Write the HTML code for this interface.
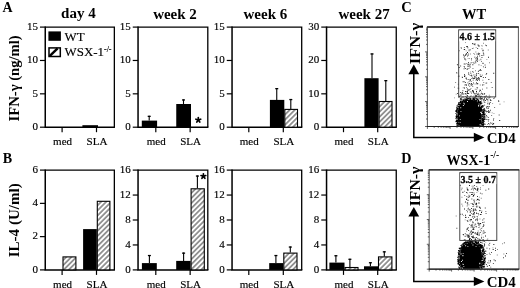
<!DOCTYPE html>
<html><head><meta charset="utf-8"><style>
html,body{margin:0;padding:0;background:#fff;}
body{width:520px;height:288px;overflow:hidden;}
svg{display:block;filter:blur(0.3px);}
text{font-family:"Liberation Serif", serif;fill:#000;}
</style></head><body>
<svg width="520" height="288" viewBox="0 0 520 288">
<defs><pattern id="hatch" patternUnits="userSpaceOnUse" width="3.6" height="3.6" patternTransform="rotate(45)"><rect width="3.6" height="3.6" fill="#fff"/><line x1="1.8" y1="0" x2="1.8" y2="3.6" stroke="#222" stroke-width="0.9"/></pattern></defs>
<rect width="520" height="288" fill="#fff"/>
<path d="M45.25 27.10 H114.35 V127.20" fill="none" stroke="#000" stroke-width="1.3"/>
<path d="M45.25 26.50 V127.20 H114.95" fill="none" stroke="#000" stroke-width="1.5"/>
<line x1="39.95" y1="127.20" x2="45.25" y2="127.20" stroke="#000" stroke-width="1.2"/>
<text x="37.95" y="130.00" text-anchor="end" font-size="11" stroke="#000" stroke-width="0.15">0</text>
<line x1="39.95" y1="93.83" x2="45.25" y2="93.83" stroke="#000" stroke-width="1.2"/>
<text x="37.95" y="96.63" text-anchor="end" font-size="11" stroke="#000" stroke-width="0.15">5</text>
<line x1="39.95" y1="60.47" x2="45.25" y2="60.47" stroke="#000" stroke-width="1.2"/>
<text x="37.95" y="63.27" text-anchor="end" font-size="11" stroke="#000" stroke-width="0.15">10</text>
<line x1="39.95" y1="27.10" x2="45.25" y2="27.10" stroke="#000" stroke-width="1.2"/>
<text x="37.95" y="29.90" text-anchor="end" font-size="11" stroke="#000" stroke-width="0.15">15</text>
<line x1="62.10" y1="127.20" x2="62.10" y2="132.20" stroke="#000" stroke-width="1.2"/>
<text x="62.60" y="144.90" text-anchor="middle" font-size="11" stroke="#000" stroke-width="0.15">med</text>
<line x1="96.50" y1="127.20" x2="96.50" y2="132.20" stroke="#000" stroke-width="1.2"/>
<text x="97.00" y="144.90" text-anchor="middle" font-size="11" stroke="#000" stroke-width="0.15">SLA</text>
<path d="M138.05 27.10 H207.80 V127.20" fill="none" stroke="#000" stroke-width="1.3"/>
<path d="M138.05 26.50 V127.20 H208.40" fill="none" stroke="#000" stroke-width="1.5"/>
<line x1="132.75" y1="127.20" x2="138.05" y2="127.20" stroke="#000" stroke-width="1.2"/>
<text x="130.75" y="130.00" text-anchor="end" font-size="11" stroke="#000" stroke-width="0.15">0</text>
<line x1="132.75" y1="93.83" x2="138.05" y2="93.83" stroke="#000" stroke-width="1.2"/>
<text x="130.75" y="96.63" text-anchor="end" font-size="11" stroke="#000" stroke-width="0.15">5</text>
<line x1="132.75" y1="60.47" x2="138.05" y2="60.47" stroke="#000" stroke-width="1.2"/>
<text x="130.75" y="63.27" text-anchor="end" font-size="11" stroke="#000" stroke-width="0.15">10</text>
<line x1="132.75" y1="27.10" x2="138.05" y2="27.10" stroke="#000" stroke-width="1.2"/>
<text x="130.75" y="29.90" text-anchor="end" font-size="11" stroke="#000" stroke-width="0.15">15</text>
<line x1="155.80" y1="127.20" x2="155.80" y2="132.20" stroke="#000" stroke-width="1.2"/>
<text x="156.30" y="144.90" text-anchor="middle" font-size="11" stroke="#000" stroke-width="0.15">med</text>
<line x1="190.15" y1="127.20" x2="190.15" y2="132.20" stroke="#000" stroke-width="1.2"/>
<text x="190.65" y="144.90" text-anchor="middle" font-size="11" stroke="#000" stroke-width="0.15">SLA</text>
<path d="M232.05 27.10 H301.70 V127.20" fill="none" stroke="#000" stroke-width="1.3"/>
<path d="M232.05 26.50 V127.20 H302.30" fill="none" stroke="#000" stroke-width="1.5"/>
<line x1="226.75" y1="127.20" x2="232.05" y2="127.20" stroke="#000" stroke-width="1.2"/>
<text x="224.75" y="130.00" text-anchor="end" font-size="11" stroke="#000" stroke-width="0.15">0</text>
<line x1="226.75" y1="93.83" x2="232.05" y2="93.83" stroke="#000" stroke-width="1.2"/>
<text x="224.75" y="96.63" text-anchor="end" font-size="11" stroke="#000" stroke-width="0.15">5</text>
<line x1="226.75" y1="60.47" x2="232.05" y2="60.47" stroke="#000" stroke-width="1.2"/>
<text x="224.75" y="63.27" text-anchor="end" font-size="11" stroke="#000" stroke-width="0.15">10</text>
<line x1="226.75" y1="27.10" x2="232.05" y2="27.10" stroke="#000" stroke-width="1.2"/>
<text x="224.75" y="29.90" text-anchor="end" font-size="11" stroke="#000" stroke-width="0.15">15</text>
<line x1="248.80" y1="127.20" x2="248.80" y2="132.20" stroke="#000" stroke-width="1.2"/>
<text x="249.30" y="144.90" text-anchor="middle" font-size="11" stroke="#000" stroke-width="0.15">med</text>
<line x1="283.30" y1="127.20" x2="283.30" y2="132.20" stroke="#000" stroke-width="1.2"/>
<text x="283.80" y="144.90" text-anchor="middle" font-size="11" stroke="#000" stroke-width="0.15">SLA</text>
<path d="M326.55 27.10 H396.25 V127.20" fill="none" stroke="#000" stroke-width="1.3"/>
<path d="M326.55 26.50 V127.20 H396.85" fill="none" stroke="#000" stroke-width="1.5"/>
<line x1="321.25" y1="127.20" x2="326.55" y2="127.20" stroke="#000" stroke-width="1.2"/>
<text x="319.25" y="130.00" text-anchor="end" font-size="11" stroke="#000" stroke-width="0.15">0</text>
<line x1="321.25" y1="93.83" x2="326.55" y2="93.83" stroke="#000" stroke-width="1.2"/>
<text x="319.25" y="96.63" text-anchor="end" font-size="11" stroke="#000" stroke-width="0.15">10</text>
<line x1="321.25" y1="60.47" x2="326.55" y2="60.47" stroke="#000" stroke-width="1.2"/>
<text x="319.25" y="63.27" text-anchor="end" font-size="11" stroke="#000" stroke-width="0.15">20</text>
<line x1="321.25" y1="27.10" x2="326.55" y2="27.10" stroke="#000" stroke-width="1.2"/>
<text x="319.25" y="29.90" text-anchor="end" font-size="11" stroke="#000" stroke-width="0.15">30</text>
<line x1="343.50" y1="127.20" x2="343.50" y2="132.20" stroke="#000" stroke-width="1.2"/>
<text x="344.00" y="144.90" text-anchor="middle" font-size="11" stroke="#000" stroke-width="0.15">med</text>
<line x1="377.70" y1="127.20" x2="377.70" y2="132.20" stroke="#000" stroke-width="1.2"/>
<text x="378.20" y="144.90" text-anchor="middle" font-size="11" stroke="#000" stroke-width="0.15">SLA</text>
<path d="M45.25 170.10 H114.35 V269.90" fill="none" stroke="#000" stroke-width="1.3"/>
<path d="M45.25 169.50 V269.90 H114.95" fill="none" stroke="#000" stroke-width="1.5"/>
<line x1="39.95" y1="269.90" x2="45.25" y2="269.90" stroke="#000" stroke-width="1.2"/>
<text x="37.95" y="272.70" text-anchor="end" font-size="11" stroke="#000" stroke-width="0.15">0</text>
<line x1="39.95" y1="236.63" x2="45.25" y2="236.63" stroke="#000" stroke-width="1.2"/>
<text x="37.95" y="239.43" text-anchor="end" font-size="11" stroke="#000" stroke-width="0.15">2</text>
<line x1="39.95" y1="203.37" x2="45.25" y2="203.37" stroke="#000" stroke-width="1.2"/>
<text x="37.95" y="206.17" text-anchor="end" font-size="11" stroke="#000" stroke-width="0.15">4</text>
<line x1="39.95" y1="170.10" x2="45.25" y2="170.10" stroke="#000" stroke-width="1.2"/>
<text x="37.95" y="172.90" text-anchor="end" font-size="11" stroke="#000" stroke-width="0.15">6</text>
<line x1="62.10" y1="269.90" x2="62.10" y2="274.90" stroke="#000" stroke-width="1.2"/>
<text x="62.60" y="287.60" text-anchor="middle" font-size="11" stroke="#000" stroke-width="0.15">med</text>
<line x1="96.50" y1="269.90" x2="96.50" y2="274.90" stroke="#000" stroke-width="1.2"/>
<text x="97.00" y="287.60" text-anchor="middle" font-size="11" stroke="#000" stroke-width="0.15">SLA</text>
<path d="M138.05 170.10 H207.80 V269.90" fill="none" stroke="#000" stroke-width="1.3"/>
<path d="M138.05 169.50 V269.90 H208.40" fill="none" stroke="#000" stroke-width="1.5"/>
<line x1="132.75" y1="269.90" x2="138.05" y2="269.90" stroke="#000" stroke-width="1.2"/>
<text x="130.75" y="272.70" text-anchor="end" font-size="11" stroke="#000" stroke-width="0.15">0</text>
<line x1="132.75" y1="244.95" x2="138.05" y2="244.95" stroke="#000" stroke-width="1.2"/>
<text x="130.75" y="247.75" text-anchor="end" font-size="11" stroke="#000" stroke-width="0.15">4</text>
<line x1="132.75" y1="220.00" x2="138.05" y2="220.00" stroke="#000" stroke-width="1.2"/>
<text x="130.75" y="222.80" text-anchor="end" font-size="11" stroke="#000" stroke-width="0.15">8</text>
<line x1="132.75" y1="195.05" x2="138.05" y2="195.05" stroke="#000" stroke-width="1.2"/>
<text x="130.75" y="197.85" text-anchor="end" font-size="11" stroke="#000" stroke-width="0.15">12</text>
<line x1="132.75" y1="170.10" x2="138.05" y2="170.10" stroke="#000" stroke-width="1.2"/>
<text x="130.75" y="172.90" text-anchor="end" font-size="11" stroke="#000" stroke-width="0.15">16</text>
<line x1="155.80" y1="269.90" x2="155.80" y2="274.90" stroke="#000" stroke-width="1.2"/>
<text x="156.30" y="287.60" text-anchor="middle" font-size="11" stroke="#000" stroke-width="0.15">med</text>
<line x1="190.15" y1="269.90" x2="190.15" y2="274.90" stroke="#000" stroke-width="1.2"/>
<text x="190.65" y="287.60" text-anchor="middle" font-size="11" stroke="#000" stroke-width="0.15">SLA</text>
<path d="M232.05 170.10 H301.70 V269.90" fill="none" stroke="#000" stroke-width="1.3"/>
<path d="M232.05 169.50 V269.90 H302.30" fill="none" stroke="#000" stroke-width="1.5"/>
<line x1="226.75" y1="269.90" x2="232.05" y2="269.90" stroke="#000" stroke-width="1.2"/>
<text x="224.75" y="272.70" text-anchor="end" font-size="11" stroke="#000" stroke-width="0.15">0</text>
<line x1="226.75" y1="244.95" x2="232.05" y2="244.95" stroke="#000" stroke-width="1.2"/>
<text x="224.75" y="247.75" text-anchor="end" font-size="11" stroke="#000" stroke-width="0.15">4</text>
<line x1="226.75" y1="220.00" x2="232.05" y2="220.00" stroke="#000" stroke-width="1.2"/>
<text x="224.75" y="222.80" text-anchor="end" font-size="11" stroke="#000" stroke-width="0.15">8</text>
<line x1="226.75" y1="195.05" x2="232.05" y2="195.05" stroke="#000" stroke-width="1.2"/>
<text x="224.75" y="197.85" text-anchor="end" font-size="11" stroke="#000" stroke-width="0.15">12</text>
<line x1="226.75" y1="170.10" x2="232.05" y2="170.10" stroke="#000" stroke-width="1.2"/>
<text x="224.75" y="172.90" text-anchor="end" font-size="11" stroke="#000" stroke-width="0.15">16</text>
<line x1="248.80" y1="269.90" x2="248.80" y2="274.90" stroke="#000" stroke-width="1.2"/>
<text x="249.30" y="287.60" text-anchor="middle" font-size="11" stroke="#000" stroke-width="0.15">med</text>
<line x1="283.30" y1="269.90" x2="283.30" y2="274.90" stroke="#000" stroke-width="1.2"/>
<text x="283.80" y="287.60" text-anchor="middle" font-size="11" stroke="#000" stroke-width="0.15">SLA</text>
<path d="M326.55 170.10 H396.25 V269.90" fill="none" stroke="#000" stroke-width="1.3"/>
<path d="M326.55 169.50 V269.90 H396.85" fill="none" stroke="#000" stroke-width="1.5"/>
<line x1="321.25" y1="269.90" x2="326.55" y2="269.90" stroke="#000" stroke-width="1.2"/>
<text x="319.25" y="272.70" text-anchor="end" font-size="11" stroke="#000" stroke-width="0.15">0</text>
<line x1="321.25" y1="244.95" x2="326.55" y2="244.95" stroke="#000" stroke-width="1.2"/>
<text x="319.25" y="247.75" text-anchor="end" font-size="11" stroke="#000" stroke-width="0.15">4</text>
<line x1="321.25" y1="220.00" x2="326.55" y2="220.00" stroke="#000" stroke-width="1.2"/>
<text x="319.25" y="222.80" text-anchor="end" font-size="11" stroke="#000" stroke-width="0.15">8</text>
<line x1="321.25" y1="195.05" x2="326.55" y2="195.05" stroke="#000" stroke-width="1.2"/>
<text x="319.25" y="197.85" text-anchor="end" font-size="11" stroke="#000" stroke-width="0.15">12</text>
<line x1="321.25" y1="170.10" x2="326.55" y2="170.10" stroke="#000" stroke-width="1.2"/>
<text x="319.25" y="172.90" text-anchor="end" font-size="11" stroke="#000" stroke-width="0.15">16</text>
<line x1="343.50" y1="269.90" x2="343.50" y2="274.90" stroke="#000" stroke-width="1.2"/>
<text x="344.00" y="287.60" text-anchor="middle" font-size="11" stroke="#000" stroke-width="0.15">med</text>
<line x1="377.70" y1="269.90" x2="377.70" y2="274.90" stroke="#000" stroke-width="1.2"/>
<text x="378.20" y="287.60" text-anchor="middle" font-size="11" stroke="#000" stroke-width="0.15">SLA</text>
<rect x="82.40" y="125.20" width="15.60" height="2.00" fill="#000"/>
<line x1="149.20" y1="115.80" x2="149.20" y2="120.60" stroke="#000" stroke-width="1.1"/>
<line x1="147.70" y1="116.35" x2="150.70" y2="116.35" stroke="#000" stroke-width="1.3"/>
<rect x="141.80" y="120.60" width="15.30" height="6.60" fill="#000"/>
<line x1="183.50" y1="99.40" x2="183.50" y2="104.00" stroke="#000" stroke-width="1.1"/>
<line x1="182.00" y1="99.95" x2="185.00" y2="99.95" stroke="#000" stroke-width="1.3"/>
<rect x="176.25" y="104.00" width="14.75" height="23.20" fill="#000"/>
<line x1="276.75" y1="88.10" x2="276.75" y2="99.90" stroke="#000" stroke-width="1.1"/>
<line x1="275.25" y1="88.65" x2="278.25" y2="88.65" stroke="#000" stroke-width="1.3"/>
<rect x="269.90" y="99.90" width="14.40" height="27.30" fill="#000"/>
<line x1="290.80" y1="99.00" x2="290.80" y2="108.90" stroke="#000" stroke-width="1.1"/>
<line x1="289.30" y1="99.55" x2="292.30" y2="99.55" stroke="#000" stroke-width="1.3"/>
<rect x="284.80" y="109.40" width="12.70" height="17.80" fill="url(#hatch)" stroke="#000" stroke-width="1.1"/>
<line x1="372.00" y1="53.40" x2="372.00" y2="78.20" stroke="#000" stroke-width="1.1"/>
<line x1="370.50" y1="53.95" x2="373.50" y2="53.95" stroke="#000" stroke-width="1.3"/>
<rect x="364.40" y="78.20" width="14.20" height="49.00" fill="#000"/>
<line x1="385.80" y1="80.10" x2="385.80" y2="101.00" stroke="#000" stroke-width="1.1"/>
<line x1="384.30" y1="80.65" x2="387.30" y2="80.65" stroke="#000" stroke-width="1.3"/>
<rect x="379.10" y="101.50" width="12.90" height="25.70" fill="url(#hatch)" stroke="#000" stroke-width="1.1"/>
<rect x="63.00" y="256.90" width="12.90" height="13.00" fill="url(#hatch)" stroke="#000" stroke-width="1.1"/>
<rect x="83.10" y="229.10" width="13.70" height="40.80" fill="#000"/>
<rect x="97.30" y="201.30" width="12.60" height="68.60" fill="url(#hatch)" stroke="#000" stroke-width="1.1"/>
<line x1="149.40" y1="255.00" x2="149.40" y2="263.10" stroke="#000" stroke-width="1.1"/>
<line x1="147.90" y1="255.55" x2="150.90" y2="255.55" stroke="#000" stroke-width="1.3"/>
<rect x="141.90" y="263.10" width="14.90" height="6.80" fill="#000"/>
<line x1="183.60" y1="252.60" x2="183.60" y2="260.90" stroke="#000" stroke-width="1.1"/>
<line x1="182.10" y1="253.15" x2="185.10" y2="253.15" stroke="#000" stroke-width="1.3"/>
<rect x="176.20" y="260.90" width="14.40" height="9.00" fill="#000"/>
<line x1="197.40" y1="175.50" x2="197.40" y2="188.30" stroke="#000" stroke-width="1.1"/>
<line x1="195.90" y1="176.05" x2="198.90" y2="176.05" stroke="#000" stroke-width="1.3"/>
<rect x="191.10" y="188.80" width="13.20" height="81.10" fill="url(#hatch)" stroke="#000" stroke-width="1.1"/>
<line x1="275.90" y1="255.00" x2="275.90" y2="263.10" stroke="#000" stroke-width="1.1"/>
<line x1="274.40" y1="255.55" x2="277.40" y2="255.55" stroke="#000" stroke-width="1.3"/>
<rect x="269.20" y="263.10" width="14.10" height="6.80" fill="#000"/>
<line x1="290.30" y1="246.50" x2="290.30" y2="252.60" stroke="#000" stroke-width="1.1"/>
<line x1="288.80" y1="247.05" x2="291.80" y2="247.05" stroke="#000" stroke-width="1.3"/>
<rect x="283.80" y="253.10" width="13.20" height="16.80" fill="url(#hatch)" stroke="#000" stroke-width="1.1"/>
<line x1="335.90" y1="255.20" x2="335.90" y2="262.60" stroke="#000" stroke-width="1.1"/>
<line x1="334.40" y1="255.75" x2="337.40" y2="255.75" stroke="#000" stroke-width="1.3"/>
<rect x="329.40" y="262.60" width="15.10" height="7.30" fill="#000"/>
<line x1="349.90" y1="258.75" x2="349.90" y2="267.00" stroke="#000" stroke-width="1.1"/>
<line x1="348.40" y1="259.30" x2="351.40" y2="259.30" stroke="#000" stroke-width="1.3"/>
<rect x="345.00" y="267.50" width="13.00" height="2.40" fill="url(#hatch)" stroke="#000" stroke-width="1.1"/>
<line x1="370.40" y1="262.20" x2="370.40" y2="266.30" stroke="#000" stroke-width="1.1"/>
<line x1="368.90" y1="262.75" x2="371.90" y2="262.75" stroke="#000" stroke-width="1.3"/>
<rect x="364.00" y="266.30" width="14.00" height="3.60" fill="#000"/>
<line x1="384.30" y1="251.30" x2="384.30" y2="256.40" stroke="#000" stroke-width="1.1"/>
<line x1="382.80" y1="251.85" x2="385.80" y2="251.85" stroke="#000" stroke-width="1.3"/>
<rect x="378.50" y="256.90" width="13.40" height="13.00" fill="url(#hatch)" stroke="#000" stroke-width="1.1"/>
<path d="M198.30 120.00L198.30 117.50M198.30 120.00L200.68 119.23M198.30 120.00L199.77 122.02M198.30 120.00L196.83 122.02M198.30 120.00L195.92 119.23" stroke="#000" stroke-width="1.7" stroke-linecap="round" fill="none"/>
<path d="M203.40 176.30L203.40 173.80M203.40 176.30L205.78 175.53M203.40 176.30L204.87 178.32M203.40 176.30L201.93 178.32M203.40 176.30L201.02 175.53" stroke="#000" stroke-width="1.7" stroke-linecap="round" fill="none"/>
<text x="78.4" y="18.3" text-anchor="middle" font-size="15" font-weight="bold">day 4</text>
<text x="175" y="18.6" text-anchor="middle" font-size="15" font-weight="bold">week 2</text>
<text x="265.4" y="18.6" text-anchor="middle" font-size="15" font-weight="bold">week 6</text>
<text x="364.1" y="18.6" text-anchor="middle" font-size="15" font-weight="bold">week 27</text>
<text x="2.4" y="11.6" font-size="14.5" font-weight="bold" textLength="10.1" lengthAdjust="spacingAndGlyphs">A</text>
<text x="2.7" y="163.2" font-size="14.5" font-weight="bold" textLength="9.4" lengthAdjust="spacingAndGlyphs">B</text>
<text x="401.3" y="12.1" font-size="15" font-weight="bold" textLength="10.5" lengthAdjust="spacingAndGlyphs">C</text>
<text x="401.3" y="163.1" font-size="14.5" font-weight="bold" textLength="10.2" lengthAdjust="spacingAndGlyphs">D</text>
<text transform="translate(19.4 78.4) rotate(-90)" text-anchor="middle" font-size="14" font-weight="bold" textLength="86" lengthAdjust="spacingAndGlyphs">IFN-γ (ng/ml)</text>
<text transform="translate(19.4 220.3) rotate(-90)" text-anchor="middle" font-size="14" font-weight="bold" textLength="74" lengthAdjust="spacingAndGlyphs">IL-4 (U/ml)</text>
<rect x="48.4" y="31.4" width="12.5" height="9.4" fill="#000"/>
<rect x="49.0" y="47.9" width="11.3" height="8.6" fill="#fff" stroke="#000" stroke-width="1.5"/>
<line x1="49.6" y1="56.2" x2="57.6" y2="48.3" stroke="#000" stroke-width="2.4"/>
<text x="64.6" y="40.9" font-size="12.9" stroke="#000" stroke-width="0.15">WT</text>
<text x="64.6" y="56.4" font-size="12.9" stroke="#000" stroke-width="0.15">WSX-1<tspan font-size="8" dy="-4.2">-/-</tspan></text>
<path d="M427.4 126.5 V27.0 H518.4 V126.5 Z" fill="none" stroke="#444" stroke-width="0.9"/>
<line x1="426.9" y1="27.0" x2="518.8" y2="27.0" stroke="#222" stroke-width="1.3"/>
<line x1="426.9" y1="126.5" x2="518.8" y2="126.5" stroke="#222" stroke-width="1.2"/>
<path d="M427.4 126.5v2.4M427.4 126.5h-2.4M434.2 126.5v1.4M427.4 119.0h-1.4M438.3 126.5v1.4M427.4 114.6h-1.4M441.1 126.5v1.4M427.4 111.5h-1.4M443.3 126.5v1.4M427.4 109.1h-1.4M445.1 126.5v1.4M427.4 107.1h-1.4M446.6 126.5v1.4M427.4 105.5h-1.4M447.9 126.5v1.4M427.4 104.0h-1.4M449.1 126.5v1.4M427.4 102.8h-1.4M450.1 126.5v2.4M427.4 101.6h-2.4M457.0 126.5v1.4M427.4 94.1h-1.4M461.0 126.5v1.4M427.4 89.8h-1.4M463.8 126.5v1.4M427.4 86.6h-1.4M466.1 126.5v1.4M427.4 84.2h-1.4M467.9 126.5v1.4M427.4 82.3h-1.4M469.4 126.5v1.4M427.4 80.6h-1.4M470.7 126.5v1.4M427.4 79.2h-1.4M471.9 126.5v1.4M427.4 77.9h-1.4M472.9 126.5v2.4M427.4 76.8h-2.4M479.7 126.5v1.4M427.4 69.3h-1.4M483.8 126.5v1.4M427.4 64.9h-1.4M486.6 126.5v1.4M427.4 61.8h-1.4M488.8 126.5v1.4M427.4 59.4h-1.4M490.6 126.5v1.4M427.4 57.4h-1.4M492.1 126.5v1.4M427.4 55.7h-1.4M493.4 126.5v1.4M427.4 54.3h-1.4M494.6 126.5v1.4M427.4 53.0h-1.4M495.6 126.5v2.4M427.4 51.9h-2.4M502.5 126.5v1.4M427.4 44.4h-1.4M506.5 126.5v1.4M427.4 40.0h-1.4M509.3 126.5v1.4M427.4 36.9h-1.4M511.6 126.5v1.4M427.4 34.5h-1.4M513.4 126.5v1.4M427.4 32.5h-1.4M514.9 126.5v1.4M427.4 30.9h-1.4M516.2 126.5v1.4M427.4 29.4h-1.4M517.4 126.5v1.4M427.4 28.1h-1.4" stroke="#222" stroke-width="0.7" fill="none"/>
<path d="M476.9 98.7h.9v.9h-.9zM465.2 63.6h.9v.9h-.9zM476.3 87.3h.9v.9h-.9zM474.6 83.6h.9v.9h-.9zM481.5 48.3h.9v.9h-.9zM489.0 62.3h.9v.9h-.9zM472.7 79.9h.9v.9h-.9zM469.0 58.2h.9v.9h-.9zM475.4 51.5h.9v.9h-.9zM478.7 59.7h.9v.9h-.9zM481.9 98.4h.9v.9h-.9zM465.6 54.3h.9v.9h-.9zM466.5 94.9h.9v.9h-.9zM478.0 92.7h.9v.9h-.9zM473.4 92.5h.9v.9h-.9zM467.3 68.3h.9v.9h-.9zM486.1 45.4h.9v.9h-.9zM462.8 87.3h.9v.9h-.9zM470.5 88.0h.9v.9h-.9zM473.6 98.6h.9v.9h-.9zM459.8 98.6h.9v.9h-.9zM478.7 95.3h.9v.9h-.9zM472.7 43.8h.9v.9h-.9zM467.7 58.2h.9v.9h-.9zM472.4 98.6h.9v.9h-.9zM488.8 94.8h.9v.9h-.9zM474.2 93.6h.9v.9h-.9zM465.7 50.4h.9v.9h-.9zM468.3 85.0h.9v.9h-.9zM479.0 91.0h.9v.9h-.9zM477.2 87.4h.9v.9h-.9zM481.1 61.1h.9v.9h-.9zM479.8 89.9h.9v.9h-.9zM471.1 59.6h.9v.9h-.9zM486.0 98.8h.9v.9h-.9zM480.3 94.2h.9v.9h-.9zM486.3 82.5h.9v.9h-.9zM476.9 98.6h.9v.9h-.9zM475.3 96.8h.9v.9h-.9zM494.1 97.3h.9v.9h-.9zM471.3 84.4h.9v.9h-.9zM488.0 97.7h.9v.9h-.9zM474.2 97.1h.9v.9h-.9zM476.3 89.3h.9v.9h-.9zM470.0 95.9h.9v.9h-.9zM466.5 98.6h.9v.9h-.9zM487.8 49.6h.9v.9h-.9zM474.7 42.9h.9v.9h-.9zM479.1 95.3h.9v.9h-.9zM473.2 53.2h.9v.9h-.9zM472.9 47.7h.9v.9h-.9zM481.7 45.5h.9v.9h-.9zM457.8 83.8h.9v.9h-.9zM466.9 90.7h.9v.9h-.9zM484.2 93.0h.9v.9h-.9zM468.1 66.0h.9v.9h-.9zM469.3 86.0h.9v.9h-.9zM481.3 45.2h.9v.9h-.9zM479.8 84.6h.9v.9h-.9zM472.3 77.0h.9v.9h-.9zM480.3 58.7h.9v.9h-.9zM474.5 75.9h.9v.9h-.9zM477.0 61.0h.9v.9h-.9zM480.5 59.3h.9v.9h-.9zM465.1 42.2h.9v.9h-.9zM464.0 55.8h.9v.9h-.9zM482.0 93.8h.9v.9h-.9zM468.3 84.0h.9v.9h-.9zM472.1 71.0h.9v.9h-.9zM461.9 93.9h.9v.9h-.9zM458.3 87.8h.9v.9h-.9zM458.9 50.3h.9v.9h-.9zM478.6 97.9h.9v.9h-.9zM463.6 49.1h.9v.9h-.9zM463.6 66.1h.9v.9h-.9zM479.6 89.3h.9v.9h-.9zM469.1 65.5h.9v.9h-.9zM474.9 94.9h.9v.9h-.9zM482.8 52.5h.9v.9h-.9zM483.3 82.0h.9v.9h-.9zM475.6 77.1h.9v.9h-.9zM473.7 61.7h.9v.9h-.9zM480.7 65.2h.9v.9h-.9zM455.2 82.1h.9v.9h-.9zM468.5 80.9h.9v.9h-.9zM469.9 53.6h.9v.9h-.9zM465.0 98.6h.9v.9h-.9zM466.1 87.1h.9v.9h-.9zM457.9 75.8h.9v.9h-.9zM478.7 93.8h.9v.9h-.9zM478.4 53.4h.9v.9h-.9zM468.0 54.8h.9v.9h-.9zM479.0 45.5h.9v.9h-.9zM482.4 79.8h.9v.9h-.9zM483.0 42.8h.9v.9h-.9zM478.8 96.3h.9v.9h-.9zM469.0 89.6h.9v.9h-.9zM486.4 59.2h.9v.9h-.9zM465.3 96.1h.9v.9h-.9zM468.4 65.2h.9v.9h-.9zM480.5 95.6h.9v.9h-.9zM475.7 46.9h.9v.9h-.9zM469.7 64.7h.9v.9h-.9zM464.6 58.2h.9v.9h-.9zM455.7 93.7h.9v.9h-.9zM483.4 84.3h.9v.9h-.9zM465.7 78.0h.9v.9h-.9zM474.8 88.8h.9v.9h-.9zM456.1 72.2h.9v.9h-.9zM470.1 89.2h.9v.9h-.9zM480.9 91.6h.9v.9h-.9zM470.8 83.3h.9v.9h-.9zM469.7 91.4h.9v.9h-.9zM474.2 98.0h.9v.9h-.9zM473.5 95.4h.9v.9h-.9zM454.1 97.4h.9v.9h-.9zM466.4 63.0h.9v.9h-.9zM478.8 52.9h.9v.9h-.9zM470.2 71.5h.9v.9h-.9zM465.3 93.7h.9v.9h-.9zM479.1 70.1h.9v.9h-.9zM460.9 48.0h.9v.9h-.9zM477.2 94.0h.9v.9h-.9zM475.1 70.3h.9v.9h-.9zM487.5 101.6h.9v.9h-.9zM481.9 121.3h.9v.9h-.9zM483.1 99.0h.9v.9h-.9zM481.6 102.8h.9v.9h-.9zM483.0 118.1h.9v.9h-.9zM484.3 116.7h.9v.9h-.9zM484.0 119.0h.9v.9h-.9zM484.6 115.5h.9v.9h-.9zM482.7 108.7h.9v.9h-.9zM481.1 111.6h.9v.9h-.9zM483.1 100.0h.9v.9h-.9zM481.8 107.0h.9v.9h-.9zM486.7 119.0h.9v.9h-.9zM483.2 115.2h.9v.9h-.9zM485.3 118.3h.9v.9h-.9zM481.7 118.3h.9v.9h-.9zM493.5 112.9h.9v.9h-.9zM491.7 112.4h.9v.9h-.9zM484.1 109.8h.9v.9h-.9zM481.9 97.6h.9v.9h-.9zM492.2 103.2h.9v.9h-.9zM486.1 98.1h.9v.9h-.9zM481.8 110.9h.9v.9h-.9zM490.9 99.9h.9v.9h-.9zM483.0 115.5h.9v.9h-.9zM485.5 110.3h.9v.9h-.9zM498.5 100.8h.9v.9h-.9zM485.4 119.2h.9v.9h-.9zM490.3 122.1h.9v.9h-.9zM489.3 124.3h.9v.9h-.9zM481.6 111.5h.9v.9h-.9zM503.6 101.4h.9v.9h-.9zM492.1 122.7h.9v.9h-.9zM482.5 110.6h.9v.9h-.9zM484.6 109.5h.9v.9h-.9zM488.2 107.3h.9v.9h-.9zM487.3 124.1h.9v.9h-.9zM493.3 118.1h.9v.9h-.9zM486.6 116.1h.9v.9h-.9zM484.1 100.7h.9v.9h-.9zM483.3 101.4h.9v.9h-.9z" fill="#777"/>
<path d="M480.3 96.1h.9v.9h-.9zM462.6 96.6h.9v.9h-.9zM469.3 80.4h.9v.9h-.9zM476.5 98.6h.9v.9h-.9zM473.0 82.6h.9v.9h-.9zM481.4 98.8h.9v.9h-.9zM460.7 47.2h.9v.9h-.9zM477.1 78.2h.9v.9h-.9zM470.4 73.2h.9v.9h-.9zM464.6 54.9h.9v.9h-.9zM477.0 87.4h.9v.9h-.9zM470.0 79.8h.9v.9h-.9zM475.8 74.3h.9v.9h-.9zM481.5 57.0h.9v.9h-.9zM477.0 58.2h.9v.9h-.9zM478.6 97.8h.9v.9h-.9zM467.0 45.9h.9v.9h-.9zM464.0 81.4h.9v.9h-.9zM477.9 78.9h.9v.9h-.9zM485.1 44.7h.9v.9h-.9zM468.5 89.0h.9v.9h-.9zM476.3 73.0h.9v.9h-.9zM466.1 78.7h.9v.9h-.9zM477.7 96.1h.9v.9h-.9zM477.1 55.8h.9v.9h-.9zM479.8 74.6h.9v.9h-.9zM470.8 81.2h.9v.9h-.9zM470.0 49.4h.9v.9h-.9zM456.4 72.6h.9v.9h-.9zM470.8 84.9h.9v.9h-.9zM474.6 44.4h.9v.9h-.9zM483.2 52.8h.9v.9h-.9zM472.5 68.2h.9v.9h-.9zM482.4 93.8h.9v.9h-.9zM468.9 97.6h.9v.9h-.9zM480.0 69.4h.9v.9h-.9zM482.1 88.7h.9v.9h-.9zM473.0 98.8h.9v.9h-.9zM475.4 94.6h.9v.9h-.9zM486.0 44.9h.9v.9h-.9zM458.8 75.7h.9v.9h-.9zM469.2 98.8h.9v.9h-.9zM459.7 94.8h.9v.9h-.9zM476.2 96.0h.9v.9h-.9zM462.1 76.9h.9v.9h-.9zM473.6 63.2h.9v.9h-.9zM474.3 78.0h.9v.9h-.9zM470.6 95.4h.9v.9h-.9zM467.7 79.0h.9v.9h-.9zM490.8 81.9h.9v.9h-.9zM463.9 46.9h.9v.9h-.9zM468.5 68.2h.9v.9h-.9zM465.9 98.7h.9v.9h-.9zM465.7 93.5h.9v.9h-.9zM475.0 95.6h.9v.9h-.9zM479.2 55.5h.9v.9h-.9zM454.1 86.7h.9v.9h-.9zM474.2 53.7h.9v.9h-.9zM472.3 85.9h.9v.9h-.9zM467.4 82.4h.9v.9h-.9zM461.7 98.9h.9v.9h-.9zM467.5 64.2h.9v.9h-.9zM485.7 74.2h.9v.9h-.9zM484.6 64.6h.9v.9h-.9zM471.1 83.0h.9v.9h-.9zM465.7 84.1h.9v.9h-.9zM477.1 60.5h.9v.9h-.9zM470.5 83.8h.9v.9h-.9zM467.1 55.5h.9v.9h-.9zM472.6 62.2h.9v.9h-.9zM482.6 62.9h.9v.9h-.9zM466.0 84.9h.9v.9h-.9zM478.1 52.8h.9v.9h-.9zM478.2 54.0h.9v.9h-.9zM466.7 46.4h.9v.9h-.9zM476.1 82.2h.9v.9h-.9zM464.0 66.6h.9v.9h-.9zM476.2 92.4h.9v.9h-.9zM470.5 91.4h.9v.9h-.9zM481.8 74.7h.9v.9h-.9zM464.9 68.1h.9v.9h-.9zM460.2 65.6h.9v.9h-.9zM467.6 97.8h.9v.9h-.9zM470.7 62.3h.9v.9h-.9zM483.8 96.3h.9v.9h-.9zM475.3 60.8h.9v.9h-.9zM469.8 98.7h.9v.9h-.9zM475.1 96.2h.9v.9h-.9zM476.9 57.5h.9v.9h-.9zM469.7 75.2h.9v.9h-.9zM468.6 50.4h.9v.9h-.9zM475.3 62.3h.9v.9h-.9zM480.1 97.2h.9v.9h-.9zM475.5 76.6h.9v.9h-.9zM482.9 77.1h.9v.9h-.9zM481.5 97.9h.9v.9h-.9zM471.9 47.9h.9v.9h-.9zM486.4 87.6h.9v.9h-.9zM472.2 84.3h.9v.9h-.9zM475.5 93.0h.9v.9h-.9zM480.6 98.3h.9v.9h-.9zM486.2 73.0h.9v.9h-.9zM484.1 97.8h.9v.9h-.9zM471.1 58.3h.9v.9h-.9zM471.9 98.9h.9v.9h-.9zM467.1 65.7h.9v.9h-.9zM462.4 90.3h.9v.9h-.9zM480.8 76.1h.9v.9h-.9zM473.5 74.6h.9v.9h-.9zM477.2 48.1h.9v.9h-.9zM466.9 90.8h.9v.9h-.9zM480.7 69.9h.9v.9h-.9zM476.4 57.0h.9v.9h-.9zM467.8 53.5h.9v.9h-.9zM467.7 90.1h.9v.9h-.9zM475.9 59.8h.9v.9h-.9zM481.8 93.2h.9v.9h-.9zM477.1 98.7h.9v.9h-.9zM457.0 93.1h.9v.9h-.9zM471.2 83.4h.9v.9h-.9zM478.7 78.2h.9v.9h-.9zM475.2 96.6h.9v.9h-.9zM472.0 90.0h.9v.9h-.9zM457.6 87.7h.9v.9h-.9zM473.6 97.0h.9v.9h-.9zM471.0 92.7h.9v.9h-.9zM473.1 90.9h.9v.9h-.9zM471.5 78.1h.9v.9h-.9zM466.6 90.9h.9v.9h-.9zM473.8 93.2h.9v.9h-.9zM483.7 110.3h.9v.9h-.9zM485.9 115.0h.9v.9h-.9zM487.9 120.6h.9v.9h-.9zM490.0 99.4h.9v.9h-.9zM483.0 111.3h.9v.9h-.9zM481.2 100.4h.9v.9h-.9zM482.9 115.5h.9v.9h-.9zM490.0 100.0h.9v.9h-.9zM490.0 109.8h.9v.9h-.9zM489.1 97.4h.9v.9h-.9zM485.6 118.9h.9v.9h-.9zM494.2 107.2h.9v.9h-.9zM498.7 114.5h.9v.9h-.9zM489.0 104.2h.9v.9h-.9zM486.0 106.5h.9v.9h-.9zM483.6 121.1h.9v.9h-.9zM487.7 108.1h.9v.9h-.9zM483.4 119.4h.9v.9h-.9zM488.2 110.1h.9v.9h-.9zM481.2 121.6h.9v.9h-.9zM488.0 123.2h.9v.9h-.9zM489.8 99.3h.9v.9h-.9zM490.0 101.9h.9v.9h-.9zM484.6 99.9h.9v.9h-.9zM488.4 122.9h.9v.9h-.9zM491.2 115.2h.9v.9h-.9zM481.1 123.2h.9v.9h-.9zM485.2 110.5h.9v.9h-.9zM484.4 102.1h.9v.9h-.9zM487.8 117.0h.9v.9h-.9zM499.5 103.7h.9v.9h-.9z" fill="#333"/>
<path d="M472.5 91.1h.9v.9h-.9zM478.2 72.9h.9v.9h-.9zM464.9 92.9h.9v.9h-.9zM467.0 93.1h.9v.9h-.9zM479.2 53.4h.9v.9h-.9zM463.0 54.5h.9v.9h-.9zM482.5 62.7h.9v.9h-.9zM473.5 78.0h.9v.9h-.9zM465.7 77.6h.9v.9h-.9zM477.6 94.5h.9v.9h-.9zM466.9 91.8h.9v.9h-.9zM475.5 58.3h.9v.9h-.9zM477.3 83.3h.9v.9h-.9zM472.7 91.4h.9v.9h-.9zM474.4 56.7h.9v.9h-.9zM473.2 98.5h.9v.9h-.9zM465.1 81.9h.9v.9h-.9zM468.4 73.9h.9v.9h-.9zM482.5 62.7h.9v.9h-.9zM477.6 44.5h.9v.9h-.9zM468.1 62.3h.9v.9h-.9zM475.9 74.9h.9v.9h-.9zM477.9 70.8h.9v.9h-.9zM486.5 98.8h.9v.9h-.9zM476.6 53.6h.9v.9h-.9zM464.0 87.6h.9v.9h-.9zM474.0 76.6h.9v.9h-.9zM463.8 63.6h.9v.9h-.9zM472.8 78.4h.9v.9h-.9zM464.5 75.5h.9v.9h-.9zM466.9 88.5h.9v.9h-.9zM458.4 96.7h.9v.9h-.9zM464.1 74.3h.9v.9h-.9zM470.9 74.7h.9v.9h-.9zM461.0 98.8h.9v.9h-.9zM476.4 83.3h.9v.9h-.9zM476.0 95.3h.9v.9h-.9zM471.4 75.6h.9v.9h-.9zM466.7 68.8h.9v.9h-.9zM470.3 98.4h.9v.9h-.9zM460.0 91.9h.9v.9h-.9zM464.1 76.0h.9v.9h-.9zM468.2 93.0h.9v.9h-.9zM465.9 53.2h.9v.9h-.9zM466.4 46.1h.9v.9h-.9zM478.5 77.8h.9v.9h-.9zM474.2 43.8h.9v.9h-.9zM470.5 98.0h.9v.9h-.9zM464.6 84.6h.9v.9h-.9zM479.0 79.6h.9v.9h-.9zM467.0 52.0h.9v.9h-.9zM461.3 97.5h.9v.9h-.9zM482.5 50.4h.9v.9h-.9zM461.6 93.1h.9v.9h-.9zM467.8 64.2h.9v.9h-.9zM480.4 76.0h.9v.9h-.9zM477.9 77.2h.9v.9h-.9zM476.1 91.0h.9v.9h-.9zM482.9 66.4h.9v.9h-.9zM468.7 49.4h.9v.9h-.9zM466.8 96.6h.9v.9h-.9zM473.0 91.8h.9v.9h-.9zM463.3 93.6h.9v.9h-.9zM482.6 49.8h.9v.9h-.9zM483.9 93.6h.9v.9h-.9zM472.6 89.9h.9v.9h-.9zM465.3 59.4h.9v.9h-.9zM467.1 94.9h.9v.9h-.9zM480.4 97.8h.9v.9h-.9zM476.3 78.3h.9v.9h-.9zM477.5 93.5h.9v.9h-.9zM463.6 68.4h.9v.9h-.9zM472.8 71.7h.9v.9h-.9zM472.4 64.3h.9v.9h-.9zM483.3 54.6h.9v.9h-.9zM467.4 47.4h.9v.9h-.9zM476.9 59.2h.9v.9h-.9zM484.9 66.8h.9v.9h-.9zM466.0 96.9h.9v.9h-.9zM478.3 45.6h.9v.9h-.9zM460.1 98.2h.9v.9h-.9zM481.5 55.1h.9v.9h-.9zM480.8 92.9h.9v.9h-.9zM469.7 79.0h.9v.9h-.9zM493.3 72.8h.9v.9h-.9zM460.0 98.8h.9v.9h-.9zM479.7 90.1h.9v.9h-.9zM482.2 84.5h.9v.9h-.9zM464.3 58.5h.9v.9h-.9zM479.8 98.8h.9v.9h-.9zM459.0 96.2h.9v.9h-.9zM476.3 98.5h.9v.9h-.9zM485.0 77.2h.9v.9h-.9zM485.6 82.7h.9v.9h-.9zM463.6 56.7h.9v.9h-.9zM479.8 69.6h.9v.9h-.9zM461.8 92.0h.9v.9h-.9zM460.7 94.6h.9v.9h-.9zM485.8 95.5h.9v.9h-.9zM465.8 98.2h.9v.9h-.9zM464.2 49.1h.9v.9h-.9zM472.3 43.1h.9v.9h-.9zM472.5 97.5h.9v.9h-.9zM465.1 54.6h.9v.9h-.9zM478.3 77.5h.9v.9h-.9zM488.1 56.8h.9v.9h-.9zM476.4 79.2h.9v.9h-.9zM468.2 72.5h.9v.9h-.9zM478.5 64.4h.9v.9h-.9zM466.8 91.3h.9v.9h-.9zM466.2 53.7h.9v.9h-.9zM479.9 69.4h.9v.9h-.9zM488.4 79.1h.9v.9h-.9zM468.8 83.1h.9v.9h-.9zM461.8 76.7h.9v.9h-.9zM481.4 95.9h.9v.9h-.9zM483.8 98.8h.9v.9h-.9zM462.7 81.3h.9v.9h-.9zM475.6 79.7h.9v.9h-.9zM456.9 64.3h.9v.9h-.9zM469.6 63.8h.9v.9h-.9zM491.7 87.2h.9v.9h-.9zM469.7 66.6h.9v.9h-.9zM477.0 79.9h.9v.9h-.9zM458.7 67.1h.9v.9h-.9zM465.2 91.0h.9v.9h-.9zM487.4 103.3h.9v.9h-.9zM489.3 111.5h.9v.9h-.9zM485.9 111.3h.9v.9h-.9zM488.3 119.2h.9v.9h-.9zM493.4 97.9h.9v.9h-.9zM489.1 102.8h.9v.9h-.9zM484.8 96.6h.9v.9h-.9zM493.1 119.5h.9v.9h-.9zM487.4 111.0h.9v.9h-.9zM481.9 106.2h.9v.9h-.9zM487.0 106.2h.9v.9h-.9zM481.1 121.4h.9v.9h-.9zM486.4 107.5h.9v.9h-.9zM488.0 111.9h.9v.9h-.9zM487.4 99.6h.9v.9h-.9zM485.1 100.2h.9v.9h-.9zM498.1 100.5h.9v.9h-.9zM484.2 104.7h.9v.9h-.9zM484.6 123.8h.9v.9h-.9zM487.5 96.7h.9v.9h-.9zM490.6 122.9h.9v.9h-.9zM484.7 113.5h.9v.9h-.9zM489.5 96.5h.9v.9h-.9zM483.0 119.1h.9v.9h-.9zM481.8 123.2h.9v.9h-.9zM483.0 114.0h.9v.9h-.9zM499.3 120.0h.9v.9h-.9zM481.1 108.1h.9v.9h-.9zM493.2 123.0h.9v.9h-.9zM492.4 124.0h.9v.9h-.9zM488.6 106.1h.9v.9h-.9zM481.2 102.6h.9v.9h-.9zM488.4 111.5h.9v.9h-.9zM481.7 119.3h.9v.9h-.9zM485.4 116.7h.9v.9h-.9zM458.0 103.7h.9v.9h-.9zM473.8 98.4h.9v.9h-.9zM457.9 112.4h.9v.9h-.9zM456.6 121.2h.9v.9h-.9zM455.7 121.3h.9v.9h-.9zM457.1 122.0h.9v.9h-.9zM457.7 123.6h.9v.9h-.9zM458.1 117.8h.9v.9h-.9zM456.9 121.3h.9v.9h-.9zM457.9 113.1h.9v.9h-.9zM482.8 110.4h.9v.9h-.9zM483.7 112.8h.9v.9h-.9zM482.9 110.6h.9v.9h-.9zM464.0 100.6h.9v.9h-.9zM457.4 113.5h.9v.9h-.9zM458.9 105.9h.9v.9h-.9zM473.6 98.3h.9v.9h-.9zM459.3 124.6h.9v.9h-.9zM462.2 102.4h.9v.9h-.9zM481.7 108.9h.9v.9h-.9zM472.6 99.7h.9v.9h-.9zM462.3 102.0h.9v.9h-.9zM456.5 120.9h.9v.9h-.9zM460.0 101.5h.9v.9h-.9zM483.7 109.0h.9v.9h-.9zM456.2 108.8h.9v.9h-.9zM481.2 109.7h.9v.9h-.9zM483.4 117.2h.9v.9h-.9zM457.9 117.1h.9v.9h-.9zM476.2 101.6h.9v.9h-.9zM481.8 111.7h.9v.9h-.9zM456.6 111.0h.9v.9h-.9zM457.1 111.7h.9v.9h-.9zM470.2 100.0h.9v.9h-.9zM455.8 118.3h.9v.9h-.9zM460.2 105.0h.9v.9h-.9zM461.3 102.4h.9v.9h-.9zM460.8 101.4h.9v.9h-.9zM458.5 121.4h.9v.9h-.9zM477.7 99.5h.9v.9h-.9zM461.9 101.9h.9v.9h-.9zM481.8 116.1h.9v.9h-.9zM481.9 123.8h.9v.9h-.9zM473.2 99.5h.9v.9h-.9zM456.1 120.3h.9v.9h-.9zM482.1 112.2h.9v.9h-.9zM483.3 124.4h.9v.9h-.9zM481.7 117.7h.9v.9h-.9zM458.6 110.0h.9v.9h-.9zM473.9 100.1h.9v.9h-.9zM456.4 114.7h.9v.9h-.9zM483.1 121.8h.9v.9h-.9zM475.7 98.1h.9v.9h-.9zM481.7 122.2h.9v.9h-.9zM457.7 124.9h.9v.9h-.9zM460.5 103.5h.9v.9h-.9zM480.9 106.0h.9v.9h-.9zM458.3 103.0h.9v.9h-.9zM482.6 112.5h.9v.9h-.9zM482.7 112.5h.9v.9h-.9zM467.7 98.3h.9v.9h-.9zM459.0 107.1h.9v.9h-.9zM467.1 98.2h.9v.9h-.9zM455.8 116.1h.9v.9h-.9zM459.6 106.0h.9v.9h-.9zM483.1 120.3h.9v.9h-.9zM455.5 118.1h.9v.9h-.9zM463.5 98.7h.9v.9h-.9zM480.5 125.1h.9v.9h-.9zM457.7 104.0h.9v.9h-.9zM484.4 114.1h.9v.9h-.9zM455.5 118.0h.9v.9h-.9zM456.9 107.8h.9v.9h-.9zM478.6 101.3h.9v.9h-.9zM481.0 109.5h.9v.9h-.9zM455.5 110.3h.9v.9h-.9zM483.6 110.2h.9v.9h-.9zM482.2 118.6h.9v.9h-.9zM479.8 102.6h.9v.9h-.9zM477.9 101.3h.9v.9h-.9zM480.2 125.0h.9v.9h-.9zM461.5 102.1h.9v.9h-.9zM475.2 101.4h.9v.9h-.9zM456.8 108.4h.9v.9h-.9zM477.9 100.4h.9v.9h-.9zM460.5 100.8h.9v.9h-.9zM472.5 100.0h.9v.9h-.9zM458.1 106.2h.9v.9h-.9zM464.0 100.2h.9v.9h-.9zM456.7 112.3h.9v.9h-.9zM471.9 100.4h.9v.9h-.9zM465.3 100.2h.9v.9h-.9zM482.4 106.6h.9v.9h-.9zM455.9 110.5h.9v.9h-.9zM480.0 101.8h.9v.9h-.9zM466.6 99.2h.9v.9h-.9zM475.1 100.4h.9v.9h-.9zM455.5 120.9h.9v.9h-.9zM482.8 119.8h.9v.9h-.9zM467.8 100.5h.9v.9h-.9zM473.1 99.0h.9v.9h-.9zM484.0 115.6h.9v.9h-.9zM483.0 112.0h.9v.9h-.9zM467.8 98.1h.9v.9h-.9zM465.6 98.9h.9v.9h-.9zM457.2 123.6h.9v.9h-.9zM457.4 116.0h.9v.9h-.9zM456.6 111.6h.9v.9h-.9zM462.4 101.3h.9v.9h-.9zM480.3 103.9h.9v.9h-.9zM482.9 112.5h.9v.9h-.9zM473.7 98.0h.9v.9h-.9zM457.4 116.9h.9v.9h-.9zM458.1 113.6h.9v.9h-.9zM481.0 106.8h.9v.9h-.9zM457.2 116.9h.9v.9h-.9zM482.6 119.8h.9v.9h-.9zM482.2 117.4h.9v.9h-.9zM457.2 119.9h.9v.9h-.9zM472.4 100.0h.9v.9h-.9zM456.5 116.5h.9v.9h-.9zM481.7 119.9h.9v.9h-.9zM458.5 103.4h.9v.9h-.9zM459.0 103.9h.9v.9h-.9zM460.3 101.0h.9v.9h-.9zM468.1 98.5h.9v.9h-.9zM461.6 102.5h.9v.9h-.9zM456.3 109.8h.9v.9h-.9zM480.6 125.0h.9v.9h-.9zM481.8 112.2h.9v.9h-.9zM482.0 118.2h.9v.9h-.9zM475.9 100.0h.9v.9h-.9zM456.6 110.7h.9v.9h-.9zM480.9 109.5h.9v.9h-.9zM457.2 116.9h.9v.9h-.9zM456.2 108.8h.9v.9h-.9zM472.6 97.9h.9v.9h-.9zM484.0 109.9h.9v.9h-.9zM456.5 115.1h.9v.9h-.9zM477.5 101.2h.9v.9h-.9zM480.6 102.8h.9v.9h-.9zM483.8 116.5h.9v.9h-.9zM456.3 121.4h.9v.9h-.9zM477.8 100.9h.9v.9h-.9zM482.2 117.5h.9v.9h-.9zM458.7 107.7h.9v.9h-.9zM455.4 110.4h.9v.9h-.9zM477.5 102.3h.9v.9h-.9zM472.9 99.4h.9v.9h-.9zM482.6 122.6h.9v.9h-.9zM483.8 107.9h.9v.9h-.9zM456.4 120.9h.9v.9h-.9zM462.3 100.6h.9v.9h-.9zM483.0 117.7h.9v.9h-.9zM456.2 107.2h.9v.9h-.9zM458.8 123.7h.9v.9h-.9zM483.4 123.5h.9v.9h-.9zM456.4 114.6h.9v.9h-.9zM457.2 108.1h.9v.9h-.9zM482.8 117.2h.9v.9h-.9zM482.1 120.0h.9v.9h-.9zM455.4 120.8h.9v.9h-.9zM483.1 119.6h.9v.9h-.9zM467.0 100.5h.9v.9h-.9zM482.6 116.2h.9v.9h-.9zM477.5 100.9h.9v.9h-.9zM457.2 124.9h.9v.9h-.9zM480.8 123.8h.9v.9h-.9zM480.1 100.9h.9v.9h-.9zM481.2 124.4h.9v.9h-.9zM457.6 125.4h.9v.9h-.9zM482.1 124.6h.9v.9h-.9zM456.8 109.1h.9v.9h-.9zM458.3 102.8h.9v.9h-.9zM480.7 106.9h.9v.9h-.9zM457.9 116.4h.9v.9h-.9zM460.2 102.4h.9v.9h-.9zM480.6 103.4h.9v.9h-.9zM458.3 119.3h.9v.9h-.9zM456.7 120.4h.9v.9h-.9zM467.4 100.3h.9v.9h-.9zM459.0 104.3h.9v.9h-.9zM480.6 106.0h.9v.9h-.9zM458.6 102.8h.9v.9h-.9zM483.3 123.5h.9v.9h-.9zM456.1 117.0h.9v.9h-.9zM479.8 101.8h.9v.9h-.9zM484.0 119.0h.9v.9h-.9zM456.2 120.5h.9v.9h-.9zM480.8 102.8h.9v.9h-.9zM480.9 108.9h.9v.9h-.9zM473.7 98.1h.9v.9h-.9zM483.7 111.1h.9v.9h-.9zM483.3 123.5h.9v.9h-.9zM479.0 103.7h.9v.9h-.9zM458.1 106.2h.9v.9h-.9zM458.6 107.8h.9v.9h-.9zM467.1 99.3h.9v.9h-.9zM470.2 98.7h.9v.9h-.9zM456.1 115.5h.9v.9h-.9zM459.4 103.8h.9v.9h-.9zM466.0 99.0h.9v.9h-.9zM456.1 119.8h.9v.9h-.9zM480.1 103.5h.9v.9h-.9zM460.8 101.1h.9v.9h-.9zM464.1 101.0h.9v.9h-.9zM472.4 100.3h.9v.9h-.9zM478.6 102.3h.9v.9h-.9zM482.8 108.9h.9v.9h-.9zM483.0 113.3h.9v.9h-.9zM476.4 99.8h.9v.9h-.9zM473.3 99.4h.9v.9h-.9zM478.2 99.6h.9v.9h-.9zM457.9 117.9h.9v.9h-.9zM465.7 98.4h.9v.9h-.9zM471.5 99.6h.9v.9h-.9zM482.1 118.6h.9v.9h-.9zM458.8 102.1h.9v.9h-.9zM457.2 111.4h.9v.9h-.9zM483.5 114.1h.9v.9h-.9zM480.7 101.4h.9v.9h-.9zM458.5 103.7h.9v.9h-.9zM470.2 98.2h.9v.9h-.9zM483.5 121.2h.9v.9h-.9zM479.6 103.2h.9v.9h-.9zM457.7 119.5h.9v.9h-.9zM473.7 98.7h.9v.9h-.9zM458.3 112.6h.9v.9h-.9zM458.3 124.6h.9v.9h-.9zM456.5 108.0h.9v.9h-.9zM473.8 98.9h.9v.9h-.9zM463.6 101.3h.9v.9h-.9zM482.3 125.4h.9v.9h-.9zM483.4 123.1h.9v.9h-.9zM458.2 117.2h.9v.9h-.9zM458.2 123.0h.9v.9h-.9zM458.5 121.5h.9v.9h-.9zM455.8 109.9h.9v.9h-.9zM463.7 100.1h.9v.9h-.9zM479.0 103.5h.9v.9h-.9zM482.7 106.1h.9v.9h-.9zM464.9 99.7h.9v.9h-.9zM483.4 114.6h.9v.9h-.9zM455.8 116.3h.9v.9h-.9zM456.1 123.2h.9v.9h-.9zM464.9 99.6h.9v.9h-.9zM455.6 116.1h.9v.9h-.9zM483.8 117.5h.9v.9h-.9zM455.5 111.0h.9v.9h-.9zM471.9 100.0h.9v.9h-.9zM467.5 97.9h.9v.9h-.9zM476.4 101.8h.9v.9h-.9zM461.3 102.7h.9v.9h-.9zM456.8 122.8h.9v.9h-.9zM481.4 105.4h.9v.9h-.9zM457.6 125.1h.9v.9h-.9zM483.0 124.8h.9v.9h-.9zM468.6 98.5h.9v.9h-.9zM457.3 118.0h.9v.9h-.9zM475.2 99.7h.9v.9h-.9zM465.8 100.3h.9v.9h-.9zM456.0 111.6h.9v.9h-.9zM482.5 110.2h.9v.9h-.9zM458.1 117.6h.9v.9h-.9zM484.0 109.7h.9v.9h-.9zM456.9 119.6h.9v.9h-.9zM466.3 99.8h.9v.9h-.9zM457.0 109.8h.9v.9h-.9zM458.7 124.0h.9v.9h-.9zM464.4 98.5h.9v.9h-.9zM472.5 98.0h.9v.9h-.9zM474.7 100.6h.9v.9h-.9zM458.2 123.6h.9v.9h-.9zM462.8 99.8h.9v.9h-.9zM458.8 107.9h.9v.9h-.9zM475.3 98.2h.9v.9h-.9zM481.4 112.7h.9v.9h-.9zM480.2 125.5h.9v.9h-.9zM469.9 99.1h.9v.9h-.9zM456.0 116.4h.9v.9h-.9zM483.5 113.4h.9v.9h-.9zM458.0 123.4h.9v.9h-.9zM478.4 101.3h.9v.9h-.9zM457.2 124.6h.9v.9h-.9zM456.8 105.2h.9v.9h-.9zM458.3 121.2h.9v.9h-.9zM463.4 99.1h.9v.9h-.9zM474.3 99.0h.9v.9h-.9zM483.8 111.8h.9v.9h-.9zM458.2 117.3h.9v.9h-.9zM469.5 97.5h.9v.9h-.9zM480.4 125.5h.9v.9h-.9zM482.0 114.2h.9v.9h-.9zM482.1 121.6h.9v.9h-.9zM481.6 115.6h.9v.9h-.9zM482.0 106.6h.9v.9h-.9zM483.8 117.2h.9v.9h-.9zM473.0 97.9h.9v.9h-.9zM461.5 102.0h.9v.9h-.9zM458.3 107.5h.9v.9h-.9zM456.4 125.2h.9v.9h-.9zM480.3 106.8h.9v.9h-.9zM481.1 107.8h.9v.9h-.9zM480.7 102.7h.9v.9h-.9zM459.9 102.1h.9v.9h-.9zM477.0 98.8h.9v.9h-.9zM463.6 100.2h.9v.9h-.9zM483.1 111.1h.9v.9h-.9zM482.6 125.2h.9v.9h-.9zM479.7 105.0h.9v.9h-.9zM477.5 101.0h.9v.9h-.9zM483.4 121.3h.9v.9h-.9zM458.1 115.3h.9v.9h-.9zM478.4 101.3h.9v.9h-.9zM476.2 100.6h.9v.9h-.9zM458.0 110.6h.9v.9h-.9zM480.8 122.7h.9v.9h-.9zM481.2 110.6h.9v.9h-.9zM457.3 123.0h.9v.9h-.9zM455.7 117.5h.9v.9h-.9zM482.3 121.1h.9v.9h-.9zM477.7 99.7h.9v.9h-.9zM457.3 120.9h.9v.9h-.9zM482.6 105.0h.9v.9h-.9zM462.7 100.4h.9v.9h-.9zM457.1 107.7h.9v.9h-.9zM482.1 110.3h.9v.9h-.9zM468.7 98.4h.9v.9h-.9zM458.4 123.6h.9v.9h-.9zM457.0 115.7h.9v.9h-.9zM457.8 113.8h.9v.9h-.9zM481.4 106.1h.9v.9h-.9zM473.9 100.3h.9v.9h-.9zM478.8 101.1h.9v.9h-.9zM458.3 113.3h.9v.9h-.9zM458.5 103.2h.9v.9h-.9zM457.3 111.7h.9v.9h-.9zM457.9 111.9h.9v.9h-.9zM481.9 118.8h.9v.9h-.9zM456.7 106.7h.9v.9h-.9zM482.8 114.2h.9v.9h-.9zM479.7 105.2h.9v.9h-.9zM483.7 116.8h.9v.9h-.9zM482.5 125.1h.9v.9h-.9zM460.3 101.4h.9v.9h-.9zM482.6 111.9h.9v.9h-.9zM483.9 116.4h.9v.9h-.9zM458.4 101.9h.9v.9h-.9zM456.6 105.5h.9v.9h-.9zM465.6 99.7h.9v.9h-.9zM480.4 107.0h.9v.9h-.9zM482.1 115.2h.9v.9h-.9zM468.6 100.2h.9v.9h-.9zM466.2 99.3h.9v.9h-.9zM458.6 104.2h.9v.9h-.9zM483.5 110.3h.9v.9h-.9zM476.5 100.1h.9v.9h-.9zM462.0 100.8h.9v.9h-.9zM457.6 105.7h.9v.9h-.9zM457.7 108.7h.9v.9h-.9zM467.3 100.1h.9v.9h-.9zM477.2 98.8h.9v.9h-.9zM477.9 102.1h.9v.9h-.9zM481.7 112.1h.9v.9h-.9zM482.7 123.9h.9v.9h-.9zM481.1 121.5h.9v.9h-.9zM459.8 100.5h.9v.9h-.9zM456.1 123.7h.9v.9h-.9zM483.1 119.9h.9v.9h-.9zM483.7 108.5h.9v.9h-.9zM455.5 113.0h.9v.9h-.9zM479.3 102.1h.9v.9h-.9zM456.7 123.0h.9v.9h-.9zM467.9 98.6h.9v.9h-.9zM455.4 111.1h.9v.9h-.9zM471.2 99.6h.9v.9h-.9zM482.4 122.1h.9v.9h-.9zM483.9 116.3h.9v.9h-.9zM458.0 116.4h.9v.9h-.9zM481.7 105.2h.9v.9h-.9zM456.2 113.9h.9v.9h-.9zM481.3 112.1h.9v.9h-.9zM478.4 100.4h.9v.9h-.9zM458.4 105.6h.9v.9h-.9zM482.7 124.9h.9v.9h-.9zM483.5 112.1h.9v.9h-.9zM455.8 115.4h.9v.9h-.9zM479.4 103.4h.9v.9h-.9zM482.3 113.9h.9v.9h-.9zM480.0 102.3h.9v.9h-.9zM483.8 119.3h.9v.9h-.9zM461.1 102.6h.9v.9h-.9zM483.9 118.5h.9v.9h-.9zM457.2 115.4h.9v.9h-.9zM481.2 122.8h.9v.9h-.9zM461.7 101.8h.9v.9h-.9zM460.3 104.7h.9v.9h-.9zM461.2 100.4h.9v.9h-.9zM481.7 112.5h.9v.9h-.9zM474.9 100.2h.9v.9h-.9zM465.1 100.4h.9v.9h-.9zM470.1 98.8h.9v.9h-.9zM457.4 120.8h.9v.9h-.9z" fill="#000"/>
<clipPath id="cp1"><rect x="427.4" y="27.0" width="91.0" height="99.0"/></clipPath>
<path d="M481.80 115.50 L481.76 117.87 L481.66 119.53 L481.48 120.98 L481.24 122.29 L480.93 123.49 L480.54 124.59 L480.09 125.61 L479.58 126.53 L478.99 127.37 L478.34 128.13 L477.62 128.80 L476.84 129.38 L475.99 129.87 L475.06 130.28 L474.04 130.59 L472.92 130.82 L471.64 130.95 L469.80 131.00 L467.96 130.95 L466.68 130.82 L465.56 130.59 L464.54 130.28 L463.61 129.87 L462.76 129.38 L461.98 128.80 L461.26 128.13 L460.61 127.37 L460.02 126.53 L459.51 125.61 L459.06 124.59 L458.67 123.49 L458.36 122.29 L458.12 120.98 L457.94 119.53 L457.84 117.87 L457.80 115.50 L457.84 113.13 L457.94 111.47 L458.12 110.02 L458.36 108.71 L458.67 107.51 L459.06 106.41 L459.51 105.39 L460.02 104.47 L460.61 103.63 L461.26 102.87 L461.98 102.20 L462.76 101.62 L463.61 101.13 L464.54 100.72 L465.56 100.41 L466.68 100.18 L467.96 100.05 L469.80 100.00 L471.64 100.05 L472.92 100.18 L474.04 100.41 L475.06 100.72 L475.99 101.13 L476.84 101.62 L477.62 102.20 L478.34 102.87 L478.99 103.63 L479.58 104.47 L480.09 105.39 L480.54 106.41 L480.93 107.51 L481.24 108.71 L481.48 110.02 L481.66 111.47 L481.76 113.13 Z" fill="#000" clip-path="url(#cp1)"/>
<path d="M459.8 119.2h.9v.9h-.9zM479.6 124.3h.9v.9h-.9zM480.5 111.7h.9v.9h-.9zM478.2 104.8h.9v.9h-.9zM462.9 105.0h.9v.9h-.9zM459.1 115.4h.9v.9h-.9zM467.0 101.1h.9v.9h-.9zM481.1 113.1h.9v.9h-.9zM479.9 105.6h.9v.9h-.9zM481.1 112.5h.9v.9h-.9zM459.7 121.9h.9v.9h-.9zM480.2 112.2h.9v.9h-.9zM460.3 107.3h.9v.9h-.9zM463.3 102.7h.9v.9h-.9zM479.5 119.2h.9v.9h-.9zM478.0 105.7h.9v.9h-.9zM460.5 110.9h.9v.9h-.9zM463.9 103.6h.9v.9h-.9z" fill="#fff"/>
<rect x="458.7" y="29.8" width="37.0" height="67.10000000000001" fill="none" stroke="#333" stroke-width="0.9"/>
<rect x="459.2" y="31.3" width="36.0" height="10" fill="#fff"/>
<text x="477.2" y="39.8" text-anchor="middle" font-size="10.8" font-weight="bold" stroke="#000" stroke-width="0.3" textLength="35.5" lengthAdjust="spacingAndGlyphs">4.6 ± 1.5</text>
<path d="M413.8 72.6 V137.4 H476" fill="none" stroke="#000" stroke-width="1.5"/>
<path d="M408.40000000000003 74.19999999999999 L413.8 64.6 L419.2 74.19999999999999 Z" fill="#000"/>
<path d="M473.8 132.70000000000002 L484.4 137.4 L473.8 142.1 Z" fill="#000"/>
<text x="486.8" y="142.6" font-size="14.5" font-weight="bold" textLength="29" lengthAdjust="spacingAndGlyphs">CD4</text>
<text transform="translate(419.6 43.5) rotate(-90)" text-anchor="middle" font-size="14.8" font-weight="bold" textLength="41.6" lengthAdjust="spacingAndGlyphs">IFN-γ</text>
<text x="474.2" y="18.8" text-anchor="middle" font-size="14.5" font-weight="bold">WT</text>
<path d="M429.2 269.2 V169.8 H519.0 V269.2 Z" fill="none" stroke="#444" stroke-width="0.9"/>
<line x1="428.7" y1="169.8" x2="519.4" y2="169.8" stroke="#222" stroke-width="1.3"/>
<line x1="428.7" y1="269.2" x2="519.4" y2="269.2" stroke="#222" stroke-width="1.2"/>
<path d="M429.2 269.2v2.4M429.2 269.2h-2.4M436.0 269.2v1.4M429.2 261.7h-1.4M439.9 269.2v1.4M429.2 257.3h-1.4M442.7 269.2v1.4M429.2 254.2h-1.4M444.9 269.2v1.4M429.2 251.8h-1.4M446.7 269.2v1.4M429.2 249.9h-1.4M448.2 269.2v1.4M429.2 248.2h-1.4M449.5 269.2v1.4M429.2 246.8h-1.4M450.6 269.2v1.4M429.2 245.5h-1.4M451.6 269.2v2.4M429.2 244.3h-2.4M458.4 269.2v1.4M429.2 236.9h-1.4M462.4 269.2v1.4M429.2 232.5h-1.4M465.2 269.2v1.4M429.2 229.4h-1.4M467.3 269.2v1.4M429.2 227.0h-1.4M469.1 269.2v1.4M429.2 225.0h-1.4M470.6 269.2v1.4M429.2 223.3h-1.4M471.9 269.2v1.4M429.2 221.9h-1.4M473.1 269.2v1.4M429.2 220.6h-1.4M474.1 269.2v2.4M429.2 219.5h-2.4M480.9 269.2v1.4M429.2 212.0h-1.4M484.8 269.2v1.4M429.2 207.6h-1.4M487.6 269.2v1.4M429.2 204.5h-1.4M489.8 269.2v1.4M429.2 202.1h-1.4M491.6 269.2v1.4M429.2 200.2h-1.4M493.1 269.2v1.4M429.2 198.5h-1.4M494.4 269.2v1.4M429.2 197.1h-1.4M495.5 269.2v1.4M429.2 195.8h-1.4M496.6 269.2v2.4M429.2 194.7h-2.4M503.3 269.2v1.4M429.2 187.2h-1.4M507.3 269.2v1.4M429.2 182.8h-1.4M510.1 269.2v1.4M429.2 179.7h-1.4M512.2 269.2v1.4M429.2 177.3h-1.4M514.0 269.2v1.4M429.2 175.3h-1.4M515.5 269.2v1.4M429.2 173.6h-1.4M516.8 269.2v1.4M429.2 172.2h-1.4M518.0 269.2v1.4M429.2 170.9h-1.4" stroke="#222" stroke-width="0.7" fill="none"/>
<path d="M471.2 208.1h.9v.9h-.9zM478.5 202.5h.9v.9h-.9zM468.4 194.8h.9v.9h-.9zM469.2 224.0h.9v.9h-.9zM476.9 220.3h.9v.9h-.9zM467.1 234.5h.9v.9h-.9zM467.3 200.2h.9v.9h-.9zM468.2 208.5h.9v.9h-.9zM482.6 231.6h.9v.9h-.9zM482.9 239.2h.9v.9h-.9zM480.8 242.4h.9v.9h-.9zM471.0 225.3h.9v.9h-.9zM476.5 241.3h.9v.9h-.9zM474.5 216.5h.9v.9h-.9zM473.3 210.1h.9v.9h-.9zM471.2 242.2h.9v.9h-.9zM477.2 242.3h.9v.9h-.9zM467.4 208.6h.9v.9h-.9zM462.5 191.4h.9v.9h-.9zM469.4 234.7h.9v.9h-.9zM474.2 200.7h.9v.9h-.9zM473.1 231.6h.9v.9h-.9zM473.6 241.7h.9v.9h-.9zM469.8 231.6h.9v.9h-.9zM471.9 216.9h.9v.9h-.9zM477.7 230.5h.9v.9h-.9zM479.8 228.8h.9v.9h-.9zM481.3 210.9h.9v.9h-.9zM470.7 203.0h.9v.9h-.9zM471.1 230.7h.9v.9h-.9zM471.0 213.1h.9v.9h-.9zM483.3 230.0h.9v.9h-.9zM480.9 228.0h.9v.9h-.9zM474.9 239.3h.9v.9h-.9zM472.9 242.0h.9v.9h-.9zM477.7 190.7h.9v.9h-.9zM469.0 214.8h.9v.9h-.9zM478.9 207.3h.9v.9h-.9zM477.3 241.6h.9v.9h-.9zM481.3 234.4h.9v.9h-.9zM466.0 230.7h.9v.9h-.9zM476.4 205.6h.9v.9h-.9zM479.4 225.7h.9v.9h-.9zM472.5 222.6h.9v.9h-.9zM471.7 225.5h.9v.9h-.9zM481.2 236.7h.9v.9h-.9zM479.2 224.7h.9v.9h-.9zM470.3 230.7h.9v.9h-.9zM474.6 203.3h.9v.9h-.9zM483.6 231.3h.9v.9h-.9zM482.7 233.1h.9v.9h-.9zM464.7 219.4h.9v.9h-.9zM473.1 189.5h.9v.9h-.9zM464.2 190.8h.9v.9h-.9zM480.1 241.7h.9v.9h-.9zM467.2 228.3h.9v.9h-.9zM476.9 234.1h.9v.9h-.9zM466.8 235.6h.9v.9h-.9zM472.8 227.9h.9v.9h-.9zM462.2 205.6h.9v.9h-.9zM474.2 199.6h.9v.9h-.9zM473.0 185.7h.9v.9h-.9zM482.6 185.1h.9v.9h-.9zM482.9 236.8h.9v.9h-.9zM475.0 232.7h.9v.9h-.9zM482.0 240.4h.9v.9h-.9zM474.8 233.3h.9v.9h-.9zM480.8 197.8h.9v.9h-.9zM468.5 204.4h.9v.9h-.9zM481.6 239.8h.9v.9h-.9zM466.8 236.1h.9v.9h-.9zM477.5 205.7h.9v.9h-.9zM473.2 240.4h.9v.9h-.9zM468.7 219.5h.9v.9h-.9zM467.3 236.5h.9v.9h-.9zM476.3 199.8h.9v.9h-.9zM455.7 215.6h.9v.9h-.9zM473.7 192.5h.9v.9h-.9zM472.0 227.2h.9v.9h-.9zM479.5 218.6h.9v.9h-.9zM476.4 191.9h.9v.9h-.9zM478.9 196.7h.9v.9h-.9zM464.7 219.4h.9v.9h-.9zM466.7 205.5h.9v.9h-.9zM467.9 196.9h.9v.9h-.9zM463.8 241.9h.9v.9h-.9zM478.5 238.3h.9v.9h-.9zM481.7 241.8h.9v.9h-.9zM487.3 238.6h.9v.9h-.9zM471.9 240.4h.9v.9h-.9zM462.9 215.2h.9v.9h-.9zM468.2 242.2h.9v.9h-.9zM475.8 205.8h.9v.9h-.9zM471.9 232.1h.9v.9h-.9zM469.0 235.9h.9v.9h-.9zM476.7 213.0h.9v.9h-.9zM474.9 209.7h.9v.9h-.9zM473.7 228.7h.9v.9h-.9zM477.0 242.1h.9v.9h-.9zM480.1 187.2h.9v.9h-.9zM479.1 239.2h.9v.9h-.9zM461.2 189.3h.9v.9h-.9zM481.4 210.5h.9v.9h-.9zM479.0 232.5h.9v.9h-.9zM466.6 187.3h.9v.9h-.9zM472.2 229.2h.9v.9h-.9zM473.9 212.1h.9v.9h-.9zM481.7 227.4h.9v.9h-.9zM470.3 232.1h.9v.9h-.9zM478.5 232.8h.9v.9h-.9zM478.0 213.1h.9v.9h-.9zM471.2 234.0h.9v.9h-.9zM467.2 204.3h.9v.9h-.9zM470.4 225.0h.9v.9h-.9zM479.2 210.3h.9v.9h-.9zM470.0 239.7h.9v.9h-.9zM472.3 226.7h.9v.9h-.9zM473.1 222.2h.9v.9h-.9zM473.3 205.6h.9v.9h-.9zM475.1 232.1h.9v.9h-.9zM466.9 192.5h.9v.9h-.9zM469.0 238.1h.9v.9h-.9zM480.5 240.3h.9v.9h-.9zM461.5 196.8h.9v.9h-.9zM475.8 204.2h.9v.9h-.9zM475.3 224.3h.9v.9h-.9zM465.1 217.2h.9v.9h-.9zM497.0 249.1h.9v.9h-.9zM482.2 247.6h.9v.9h-.9zM481.7 265.2h.9v.9h-.9zM488.7 245.1h.9v.9h-.9zM484.9 253.1h.9v.9h-.9zM488.5 240.4h.9v.9h-.9zM502.2 243.3h.9v.9h-.9zM482.8 246.7h.9v.9h-.9zM489.5 242.7h.9v.9h-.9zM482.6 266.7h.9v.9h-.9zM482.0 245.8h.9v.9h-.9zM484.5 255.0h.9v.9h-.9zM482.3 242.9h.9v.9h-.9zM492.5 247.4h.9v.9h-.9zM485.3 251.1h.9v.9h-.9zM483.1 250.8h.9v.9h-.9zM485.3 241.7h.9v.9h-.9zM482.1 253.6h.9v.9h-.9zM484.3 244.4h.9v.9h-.9zM487.0 262.3h.9v.9h-.9zM496.8 254.6h.9v.9h-.9zM483.1 239.9h.9v.9h-.9zM503.4 253.5h.9v.9h-.9zM486.7 265.5h.9v.9h-.9zM488.4 244.3h.9v.9h-.9zM489.0 243.0h.9v.9h-.9zM481.2 245.2h.9v.9h-.9zM484.9 258.0h.9v.9h-.9zM481.6 239.8h.9v.9h-.9z" fill="#777"/>
<path d="M476.7 219.4h.9v.9h-.9zM467.7 189.5h.9v.9h-.9zM484.6 232.0h.9v.9h-.9zM478.7 239.2h.9v.9h-.9zM472.3 203.1h.9v.9h-.9zM461.4 203.7h.9v.9h-.9zM477.3 232.1h.9v.9h-.9zM468.8 209.7h.9v.9h-.9zM473.5 214.3h.9v.9h-.9zM478.0 224.6h.9v.9h-.9zM461.9 213.8h.9v.9h-.9zM469.5 209.0h.9v.9h-.9zM466.3 196.2h.9v.9h-.9zM471.0 219.0h.9v.9h-.9zM473.2 229.0h.9v.9h-.9zM470.5 241.0h.9v.9h-.9zM480.1 207.8h.9v.9h-.9zM479.2 206.5h.9v.9h-.9zM472.4 213.8h.9v.9h-.9zM474.8 223.5h.9v.9h-.9zM467.2 240.3h.9v.9h-.9zM476.2 218.7h.9v.9h-.9zM467.3 202.6h.9v.9h-.9zM476.2 242.3h.9v.9h-.9zM472.8 235.4h.9v.9h-.9zM473.8 224.7h.9v.9h-.9zM476.9 188.5h.9v.9h-.9zM477.7 223.0h.9v.9h-.9zM472.7 209.4h.9v.9h-.9zM467.7 199.8h.9v.9h-.9zM478.1 241.3h.9v.9h-.9zM471.7 185.7h.9v.9h-.9zM473.0 209.7h.9v.9h-.9zM473.2 208.6h.9v.9h-.9zM465.3 216.7h.9v.9h-.9zM482.3 219.5h.9v.9h-.9zM478.5 202.5h.9v.9h-.9zM474.3 232.7h.9v.9h-.9zM462.4 192.0h.9v.9h-.9zM468.1 217.2h.9v.9h-.9zM471.2 224.6h.9v.9h-.9zM476.0 212.7h.9v.9h-.9zM477.3 187.8h.9v.9h-.9zM467.7 196.7h.9v.9h-.9zM471.6 236.6h.9v.9h-.9zM478.2 214.4h.9v.9h-.9zM469.2 233.4h.9v.9h-.9zM466.0 192.1h.9v.9h-.9zM464.3 195.2h.9v.9h-.9zM467.5 235.3h.9v.9h-.9zM467.7 234.6h.9v.9h-.9zM478.6 239.4h.9v.9h-.9zM483.6 232.7h.9v.9h-.9zM471.1 194.0h.9v.9h-.9zM472.0 204.2h.9v.9h-.9zM476.2 236.9h.9v.9h-.9zM464.8 233.3h.9v.9h-.9zM466.3 198.5h.9v.9h-.9zM478.4 199.0h.9v.9h-.9zM459.9 184.9h.9v.9h-.9zM465.2 241.4h.9v.9h-.9zM477.1 196.0h.9v.9h-.9zM476.3 186.2h.9v.9h-.9zM472.4 187.4h.9v.9h-.9zM472.1 237.2h.9v.9h-.9zM483.8 221.7h.9v.9h-.9zM473.6 237.0h.9v.9h-.9zM477.2 238.3h.9v.9h-.9zM471.8 231.4h.9v.9h-.9zM479.2 240.6h.9v.9h-.9zM476.2 203.0h.9v.9h-.9zM474.9 238.3h.9v.9h-.9zM471.0 194.1h.9v.9h-.9zM476.7 216.1h.9v.9h-.9zM472.7 210.8h.9v.9h-.9zM471.4 198.6h.9v.9h-.9zM470.0 238.2h.9v.9h-.9zM482.7 239.5h.9v.9h-.9zM479.9 214.0h.9v.9h-.9zM474.4 238.7h.9v.9h-.9zM471.4 233.0h.9v.9h-.9zM464.8 241.7h.9v.9h-.9zM473.1 227.7h.9v.9h-.9zM469.6 192.0h.9v.9h-.9zM474.8 208.4h.9v.9h-.9zM471.0 230.6h.9v.9h-.9zM473.0 217.9h.9v.9h-.9zM473.4 210.3h.9v.9h-.9zM472.7 237.6h.9v.9h-.9zM478.8 223.4h.9v.9h-.9zM475.6 225.9h.9v.9h-.9zM460.2 213.8h.9v.9h-.9zM471.4 192.0h.9v.9h-.9zM466.2 242.1h.9v.9h-.9zM471.8 224.2h.9v.9h-.9zM468.2 230.1h.9v.9h-.9zM468.0 242.4h.9v.9h-.9zM466.7 242.0h.9v.9h-.9zM456.4 227.8h.9v.9h-.9zM474.0 240.2h.9v.9h-.9zM472.4 216.0h.9v.9h-.9zM471.3 236.1h.9v.9h-.9zM466.3 209.9h.9v.9h-.9zM467.4 221.1h.9v.9h-.9zM475.1 188.2h.9v.9h-.9zM480.1 239.4h.9v.9h-.9zM483.6 224.7h.9v.9h-.9zM472.7 236.4h.9v.9h-.9zM466.8 220.1h.9v.9h-.9zM471.4 241.0h.9v.9h-.9zM478.7 200.0h.9v.9h-.9zM472.4 192.3h.9v.9h-.9zM469.4 195.4h.9v.9h-.9zM467.9 207.7h.9v.9h-.9zM483.5 218.3h.9v.9h-.9zM480.0 231.9h.9v.9h-.9zM480.8 230.3h.9v.9h-.9zM470.2 219.0h.9v.9h-.9zM472.6 236.0h.9v.9h-.9zM472.7 196.1h.9v.9h-.9zM470.6 210.3h.9v.9h-.9zM485.4 211.2h.9v.9h-.9zM476.8 232.7h.9v.9h-.9zM484.8 207.5h.9v.9h-.9zM506.0 253.0h.9v.9h-.9zM488.9 252.7h.9v.9h-.9zM490.1 260.1h.9v.9h-.9zM488.5 262.5h.9v.9h-.9zM489.7 254.2h.9v.9h-.9zM482.5 239.3h.9v.9h-.9zM483.2 246.7h.9v.9h-.9zM486.9 266.2h.9v.9h-.9zM483.6 250.9h.9v.9h-.9zM495.0 250.0h.9v.9h-.9zM486.5 253.9h.9v.9h-.9zM490.3 266.7h.9v.9h-.9zM495.1 247.8h.9v.9h-.9zM481.3 254.9h.9v.9h-.9zM503.1 257.3h.9v.9h-.9zM484.2 266.5h.9v.9h-.9zM483.1 253.3h.9v.9h-.9zM481.3 248.2h.9v.9h-.9zM488.4 260.4h.9v.9h-.9z" fill="#333"/>
<path d="M475.3 188.9h.9v.9h-.9zM472.9 232.2h.9v.9h-.9zM469.3 238.3h.9v.9h-.9zM471.8 194.0h.9v.9h-.9zM475.3 239.7h.9v.9h-.9zM477.1 233.8h.9v.9h-.9zM473.8 201.6h.9v.9h-.9zM473.9 216.5h.9v.9h-.9zM473.1 204.2h.9v.9h-.9zM474.1 184.9h.9v.9h-.9zM470.9 241.9h.9v.9h-.9zM469.8 212.2h.9v.9h-.9zM476.4 206.6h.9v.9h-.9zM476.8 190.0h.9v.9h-.9zM472.1 232.2h.9v.9h-.9zM485.6 212.9h.9v.9h-.9zM480.4 242.1h.9v.9h-.9zM465.1 242.4h.9v.9h-.9zM468.2 240.1h.9v.9h-.9zM466.8 188.6h.9v.9h-.9zM475.9 203.8h.9v.9h-.9zM468.9 236.6h.9v.9h-.9zM469.9 210.9h.9v.9h-.9zM473.4 213.1h.9v.9h-.9zM481.1 237.6h.9v.9h-.9zM469.1 185.1h.9v.9h-.9zM475.6 209.8h.9v.9h-.9zM479.4 206.9h.9v.9h-.9zM475.0 241.5h.9v.9h-.9zM475.2 241.3h.9v.9h-.9zM470.6 226.7h.9v.9h-.9zM481.0 212.0h.9v.9h-.9zM477.6 234.6h.9v.9h-.9zM471.7 225.5h.9v.9h-.9zM473.1 195.0h.9v.9h-.9zM473.6 226.8h.9v.9h-.9zM467.9 236.8h.9v.9h-.9zM478.2 241.6h.9v.9h-.9zM467.0 211.4h.9v.9h-.9zM463.8 239.4h.9v.9h-.9zM468.0 235.5h.9v.9h-.9zM482.4 222.1h.9v.9h-.9zM470.6 233.7h.9v.9h-.9zM485.4 189.7h.9v.9h-.9zM465.0 201.5h.9v.9h-.9zM479.5 210.0h.9v.9h-.9zM468.1 242.3h.9v.9h-.9zM464.0 208.6h.9v.9h-.9zM469.8 220.4h.9v.9h-.9zM476.4 242.3h.9v.9h-.9zM475.5 203.9h.9v.9h-.9zM477.7 242.2h.9v.9h-.9zM479.9 192.7h.9v.9h-.9zM479.4 223.5h.9v.9h-.9zM477.4 198.7h.9v.9h-.9zM478.9 234.6h.9v.9h-.9zM467.2 189.5h.9v.9h-.9zM470.9 188.7h.9v.9h-.9zM476.1 212.7h.9v.9h-.9zM462.8 234.1h.9v.9h-.9zM478.5 226.9h.9v.9h-.9zM476.4 233.8h.9v.9h-.9zM475.3 239.1h.9v.9h-.9zM472.1 241.5h.9v.9h-.9zM462.9 234.3h.9v.9h-.9zM476.4 241.3h.9v.9h-.9zM471.1 239.0h.9v.9h-.9zM465.0 214.8h.9v.9h-.9zM470.1 214.7h.9v.9h-.9zM467.7 227.3h.9v.9h-.9zM483.0 224.6h.9v.9h-.9zM470.1 241.7h.9v.9h-.9zM475.1 241.9h.9v.9h-.9zM473.9 212.3h.9v.9h-.9zM470.5 240.4h.9v.9h-.9zM479.9 188.7h.9v.9h-.9zM480.5 214.0h.9v.9h-.9zM482.7 226.1h.9v.9h-.9zM466.3 234.4h.9v.9h-.9zM473.3 213.3h.9v.9h-.9zM471.1 208.2h.9v.9h-.9zM472.5 236.8h.9v.9h-.9zM476.7 233.3h.9v.9h-.9zM464.7 239.5h.9v.9h-.9zM473.2 199.7h.9v.9h-.9zM475.1 219.5h.9v.9h-.9zM475.8 202.8h.9v.9h-.9zM469.1 240.1h.9v.9h-.9zM480.2 223.1h.9v.9h-.9zM469.5 215.0h.9v.9h-.9zM472.6 188.4h.9v.9h-.9zM477.6 222.6h.9v.9h-.9zM470.9 219.4h.9v.9h-.9zM464.7 235.8h.9v.9h-.9zM475.7 237.2h.9v.9h-.9zM465.4 217.1h.9v.9h-.9zM470.6 241.5h.9v.9h-.9zM474.1 187.8h.9v.9h-.9zM472.5 206.2h.9v.9h-.9zM468.4 235.2h.9v.9h-.9zM461.6 187.7h.9v.9h-.9zM471.8 241.0h.9v.9h-.9zM472.3 221.5h.9v.9h-.9zM477.2 219.4h.9v.9h-.9zM472.7 228.8h.9v.9h-.9zM479.8 240.0h.9v.9h-.9zM475.8 226.4h.9v.9h-.9zM476.9 189.2h.9v.9h-.9zM466.5 228.8h.9v.9h-.9zM481.6 193.4h.9v.9h-.9zM488.3 188.6h.9v.9h-.9zM466.9 228.5h.9v.9h-.9zM470.3 242.4h.9v.9h-.9zM473.8 194.3h.9v.9h-.9zM468.8 196.3h.9v.9h-.9zM477.0 199.0h.9v.9h-.9zM474.7 209.2h.9v.9h-.9zM476.9 217.7h.9v.9h-.9zM466.1 199.1h.9v.9h-.9zM469.2 238.8h.9v.9h-.9zM469.9 242.2h.9v.9h-.9zM477.6 188.6h.9v.9h-.9zM466.9 241.9h.9v.9h-.9zM485.1 235.5h.9v.9h-.9zM475.5 241.6h.9v.9h-.9zM468.9 239.1h.9v.9h-.9zM466.8 202.5h.9v.9h-.9zM464.9 201.7h.9v.9h-.9zM475.4 242.3h.9v.9h-.9zM486.6 239.8h.9v.9h-.9zM483.9 243.4h.9v.9h-.9zM494.8 260.3h.9v.9h-.9zM483.5 264.1h.9v.9h-.9zM503.9 242.4h.9v.9h-.9zM488.9 265.0h.9v.9h-.9zM484.0 244.4h.9v.9h-.9zM493.6 259.4h.9v.9h-.9zM485.3 250.6h.9v.9h-.9zM483.6 240.5h.9v.9h-.9zM492.7 249.1h.9v.9h-.9zM483.9 245.5h.9v.9h-.9zM493.4 244.0h.9v.9h-.9zM491.1 252.2h.9v.9h-.9zM484.8 258.5h.9v.9h-.9zM492.9 262.9h.9v.9h-.9zM483.7 241.2h.9v.9h-.9zM482.2 245.3h.9v.9h-.9zM481.9 253.5h.9v.9h-.9zM486.0 264.2h.9v.9h-.9zM486.5 247.7h.9v.9h-.9zM490.1 261.4h.9v.9h-.9zM481.4 261.1h.9v.9h-.9zM483.9 251.7h.9v.9h-.9zM481.4 264.3h.9v.9h-.9zM505.0 255.5h.9v.9h-.9zM489.2 248.4h.9v.9h-.9zM481.4 262.4h.9v.9h-.9zM483.9 266.2h.9v.9h-.9zM459.2 259.2h.9v.9h-.9zM482.6 266.3h.9v.9h-.9zM463.2 246.7h.9v.9h-.9zM476.4 244.7h.9v.9h-.9zM484.7 256.8h.9v.9h-.9zM462.2 243.4h.9v.9h-.9zM479.6 246.9h.9v.9h-.9zM459.2 254.1h.9v.9h-.9zM461.6 245.8h.9v.9h-.9zM464.5 242.0h.9v.9h-.9zM465.3 242.2h.9v.9h-.9zM475.3 242.4h.9v.9h-.9zM460.0 253.2h.9v.9h-.9zM460.5 245.1h.9v.9h-.9zM460.1 257.0h.9v.9h-.9zM484.1 262.0h.9v.9h-.9zM459.4 256.2h.9v.9h-.9zM484.4 261.8h.9v.9h-.9zM478.3 244.6h.9v.9h-.9zM483.3 266.8h.9v.9h-.9zM478.1 242.1h.9v.9h-.9zM465.9 241.6h.9v.9h-.9zM482.8 247.8h.9v.9h-.9zM461.0 245.3h.9v.9h-.9zM482.2 250.7h.9v.9h-.9zM481.7 252.6h.9v.9h-.9zM457.7 259.1h.9v.9h-.9zM459.6 248.1h.9v.9h-.9zM482.4 264.0h.9v.9h-.9zM482.1 261.8h.9v.9h-.9zM460.1 258.5h.9v.9h-.9zM480.7 266.6h.9v.9h-.9zM466.5 242.0h.9v.9h-.9zM462.3 247.4h.9v.9h-.9zM480.6 267.4h.9v.9h-.9zM459.0 253.2h.9v.9h-.9zM480.9 244.6h.9v.9h-.9zM460.4 255.7h.9v.9h-.9zM474.9 241.5h.9v.9h-.9zM484.7 260.4h.9v.9h-.9zM457.6 263.5h.9v.9h-.9zM480.3 249.7h.9v.9h-.9zM481.5 261.8h.9v.9h-.9zM482.8 250.0h.9v.9h-.9zM483.6 249.6h.9v.9h-.9zM459.3 259.6h.9v.9h-.9zM480.7 247.1h.9v.9h-.9zM479.2 247.3h.9v.9h-.9zM471.7 242.7h.9v.9h-.9zM476.5 241.9h.9v.9h-.9zM481.4 247.4h.9v.9h-.9zM483.5 263.7h.9v.9h-.9zM481.0 247.3h.9v.9h-.9zM480.3 247.5h.9v.9h-.9zM459.1 251.7h.9v.9h-.9zM459.6 248.7h.9v.9h-.9zM458.1 252.9h.9v.9h-.9zM460.3 255.3h.9v.9h-.9zM483.4 252.2h.9v.9h-.9zM483.6 258.3h.9v.9h-.9zM461.6 268.3h.9v.9h-.9zM462.7 245.3h.9v.9h-.9zM481.6 246.3h.9v.9h-.9zM484.2 253.1h.9v.9h-.9zM482.4 257.2h.9v.9h-.9zM460.0 247.7h.9v.9h-.9zM481.6 268.1h.9v.9h-.9zM479.6 244.5h.9v.9h-.9zM464.0 242.4h.9v.9h-.9zM460.1 256.1h.9v.9h-.9zM469.0 243.6h.9v.9h-.9zM471.9 243.9h.9v.9h-.9zM480.5 244.6h.9v.9h-.9zM460.5 262.4h.9v.9h-.9zM465.0 243.7h.9v.9h-.9zM477.1 242.9h.9v.9h-.9zM457.3 261.2h.9v.9h-.9zM480.6 246.6h.9v.9h-.9zM459.6 250.9h.9v.9h-.9zM483.6 264.4h.9v.9h-.9zM465.2 241.5h.9v.9h-.9zM468.7 243.1h.9v.9h-.9zM457.4 262.7h.9v.9h-.9zM460.2 247.4h.9v.9h-.9zM464.6 244.3h.9v.9h-.9zM458.6 254.2h.9v.9h-.9zM482.5 256.8h.9v.9h-.9zM478.8 246.6h.9v.9h-.9zM479.2 245.0h.9v.9h-.9zM484.5 253.0h.9v.9h-.9zM458.4 266.9h.9v.9h-.9zM471.5 243.8h.9v.9h-.9zM458.1 262.6h.9v.9h-.9zM480.1 243.9h.9v.9h-.9zM482.8 256.3h.9v.9h-.9zM482.0 249.8h.9v.9h-.9zM465.7 244.1h.9v.9h-.9zM457.9 257.8h.9v.9h-.9zM470.0 243.1h.9v.9h-.9zM464.1 242.6h.9v.9h-.9zM482.6 257.4h.9v.9h-.9zM483.0 257.4h.9v.9h-.9zM484.6 261.8h.9v.9h-.9zM462.2 245.5h.9v.9h-.9zM478.3 245.3h.9v.9h-.9zM483.1 252.7h.9v.9h-.9zM484.6 257.7h.9v.9h-.9zM477.7 245.6h.9v.9h-.9zM460.5 256.7h.9v.9h-.9zM460.8 265.6h.9v.9h-.9zM481.9 266.6h.9v.9h-.9zM475.0 241.2h.9v.9h-.9zM459.2 256.0h.9v.9h-.9zM483.2 260.0h.9v.9h-.9zM482.5 261.9h.9v.9h-.9zM481.3 263.3h.9v.9h-.9zM472.2 241.4h.9v.9h-.9zM464.1 245.3h.9v.9h-.9zM480.6 249.9h.9v.9h-.9zM457.6 256.8h.9v.9h-.9zM462.1 248.0h.9v.9h-.9zM459.8 255.3h.9v.9h-.9zM484.7 257.2h.9v.9h-.9zM459.4 259.6h.9v.9h-.9zM460.8 247.4h.9v.9h-.9zM464.0 245.6h.9v.9h-.9zM481.5 245.9h.9v.9h-.9zM469.9 243.6h.9v.9h-.9zM480.5 247.9h.9v.9h-.9zM458.5 253.6h.9v.9h-.9zM457.7 260.4h.9v.9h-.9zM464.4 244.7h.9v.9h-.9zM459.2 251.8h.9v.9h-.9zM475.6 243.9h.9v.9h-.9zM466.9 241.3h.9v.9h-.9zM462.0 248.0h.9v.9h-.9zM482.5 253.8h.9v.9h-.9zM479.1 243.9h.9v.9h-.9zM460.5 249.4h.9v.9h-.9zM459.6 247.8h.9v.9h-.9zM479.2 246.8h.9v.9h-.9zM482.6 249.0h.9v.9h-.9zM458.3 260.8h.9v.9h-.9zM484.0 259.7h.9v.9h-.9zM482.8 249.2h.9v.9h-.9zM468.7 244.1h.9v.9h-.9zM481.3 246.6h.9v.9h-.9zM481.0 265.1h.9v.9h-.9zM479.4 246.8h.9v.9h-.9zM457.4 260.2h.9v.9h-.9zM457.6 261.3h.9v.9h-.9zM480.0 245.2h.9v.9h-.9zM481.9 256.1h.9v.9h-.9zM482.5 254.8h.9v.9h-.9zM483.1 262.2h.9v.9h-.9zM463.4 242.9h.9v.9h-.9zM481.9 250.2h.9v.9h-.9zM473.3 241.2h.9v.9h-.9zM481.0 245.0h.9v.9h-.9zM483.7 262.3h.9v.9h-.9zM481.5 244.8h.9v.9h-.9zM480.1 246.2h.9v.9h-.9zM482.6 264.1h.9v.9h-.9zM458.7 264.4h.9v.9h-.9zM460.4 263.0h.9v.9h-.9zM461.8 245.5h.9v.9h-.9zM463.5 245.1h.9v.9h-.9zM479.5 247.2h.9v.9h-.9zM462.8 243.3h.9v.9h-.9zM481.2 246.2h.9v.9h-.9zM483.1 263.7h.9v.9h-.9zM470.2 242.5h.9v.9h-.9zM459.5 268.2h.9v.9h-.9zM472.2 242.4h.9v.9h-.9zM459.1 254.7h.9v.9h-.9zM476.0 243.0h.9v.9h-.9zM483.1 252.5h.9v.9h-.9zM459.2 264.8h.9v.9h-.9zM460.5 249.2h.9v.9h-.9zM458.1 259.6h.9v.9h-.9zM482.5 255.6h.9v.9h-.9zM460.0 253.8h.9v.9h-.9zM483.1 252.4h.9v.9h-.9zM480.1 246.8h.9v.9h-.9zM483.9 259.3h.9v.9h-.9zM459.5 249.7h.9v.9h-.9zM484.2 256.4h.9v.9h-.9zM474.9 241.0h.9v.9h-.9zM475.8 242.3h.9v.9h-.9zM462.2 247.0h.9v.9h-.9zM465.4 242.4h.9v.9h-.9zM459.3 264.2h.9v.9h-.9zM481.5 253.5h.9v.9h-.9zM458.4 260.5h.9v.9h-.9zM484.2 258.4h.9v.9h-.9zM482.1 264.6h.9v.9h-.9zM459.7 247.6h.9v.9h-.9zM481.5 256.0h.9v.9h-.9zM464.9 244.8h.9v.9h-.9zM480.2 248.3h.9v.9h-.9zM480.7 267.2h.9v.9h-.9zM467.4 242.3h.9v.9h-.9zM458.2 250.1h.9v.9h-.9zM458.6 253.9h.9v.9h-.9zM459.4 257.6h.9v.9h-.9zM480.9 265.5h.9v.9h-.9zM458.7 260.9h.9v.9h-.9zM459.7 266.8h.9v.9h-.9zM466.9 241.3h.9v.9h-.9zM469.2 241.8h.9v.9h-.9zM458.1 250.2h.9v.9h-.9zM457.9 252.3h.9v.9h-.9zM461.6 244.1h.9v.9h-.9zM482.6 246.7h.9v.9h-.9zM474.7 244.1h.9v.9h-.9zM483.4 260.0h.9v.9h-.9zM483.1 261.1h.9v.9h-.9zM482.6 256.5h.9v.9h-.9zM479.3 246.4h.9v.9h-.9zM464.5 242.1h.9v.9h-.9zM459.9 262.6h.9v.9h-.9zM459.1 262.4h.9v.9h-.9zM461.3 249.5h.9v.9h-.9zM481.8 264.6h.9v.9h-.9zM475.1 242.7h.9v.9h-.9zM468.0 243.0h.9v.9h-.9zM481.5 256.2h.9v.9h-.9zM457.8 256.9h.9v.9h-.9zM458.0 262.2h.9v.9h-.9zM458.8 267.5h.9v.9h-.9zM483.6 252.4h.9v.9h-.9zM479.7 246.5h.9v.9h-.9zM481.9 264.0h.9v.9h-.9zM458.6 264.2h.9v.9h-.9zM460.1 249.9h.9v.9h-.9zM480.6 266.8h.9v.9h-.9zM459.9 262.3h.9v.9h-.9zM460.1 260.6h.9v.9h-.9zM458.8 253.1h.9v.9h-.9zM461.2 247.2h.9v.9h-.9zM458.9 267.6h.9v.9h-.9zM482.2 264.1h.9v.9h-.9zM482.5 254.1h.9v.9h-.9zM463.7 245.3h.9v.9h-.9zM473.4 243.1h.9v.9h-.9zM472.7 242.8h.9v.9h-.9zM458.9 261.6h.9v.9h-.9zM472.0 241.6h.9v.9h-.9zM477.3 242.8h.9v.9h-.9zM481.5 261.8h.9v.9h-.9zM468.6 241.0h.9v.9h-.9zM457.8 255.4h.9v.9h-.9zM481.7 266.6h.9v.9h-.9zM459.1 267.7h.9v.9h-.9zM457.8 263.7h.9v.9h-.9zM458.8 248.0h.9v.9h-.9zM462.4 246.5h.9v.9h-.9zM468.2 242.5h.9v.9h-.9zM466.4 244.3h.9v.9h-.9zM478.0 244.9h.9v.9h-.9zM482.3 249.3h.9v.9h-.9zM458.3 261.1h.9v.9h-.9zM461.3 246.7h.9v.9h-.9zM482.3 261.0h.9v.9h-.9zM458.4 254.3h.9v.9h-.9zM460.6 248.0h.9v.9h-.9zM459.9 263.6h.9v.9h-.9zM459.7 264.5h.9v.9h-.9zM483.4 261.1h.9v.9h-.9zM475.8 242.8h.9v.9h-.9zM458.5 250.3h.9v.9h-.9zM458.0 250.5h.9v.9h-.9zM463.3 244.6h.9v.9h-.9zM458.4 263.3h.9v.9h-.9zM482.7 251.1h.9v.9h-.9zM466.8 241.3h.9v.9h-.9zM460.2 258.7h.9v.9h-.9zM457.8 259.3h.9v.9h-.9zM484.5 263.4h.9v.9h-.9zM484.1 252.8h.9v.9h-.9zM461.2 268.2h.9v.9h-.9zM459.3 259.5h.9v.9h-.9zM464.7 245.2h.9v.9h-.9zM482.1 263.4h.9v.9h-.9zM481.3 251.9h.9v.9h-.9zM459.3 263.9h.9v.9h-.9zM476.6 244.9h.9v.9h-.9zM473.4 243.9h.9v.9h-.9zM482.9 252.4h.9v.9h-.9zM475.5 244.0h.9v.9h-.9zM460.6 249.6h.9v.9h-.9zM483.4 248.6h.9v.9h-.9zM458.8 259.6h.9v.9h-.9zM459.1 265.2h.9v.9h-.9zM481.9 260.9h.9v.9h-.9zM463.6 242.2h.9v.9h-.9zM474.5 241.8h.9v.9h-.9zM474.3 243.0h.9v.9h-.9zM483.3 249.9h.9v.9h-.9zM457.9 256.0h.9v.9h-.9zM469.0 242.5h.9v.9h-.9zM484.5 255.0h.9v.9h-.9zM482.3 265.8h.9v.9h-.9zM480.8 267.4h.9v.9h-.9zM459.4 258.5h.9v.9h-.9zM463.6 245.1h.9v.9h-.9zM467.2 243.4h.9v.9h-.9zM479.0 245.2h.9v.9h-.9zM459.8 247.4h.9v.9h-.9zM466.0 241.9h.9v.9h-.9zM462.8 244.3h.9v.9h-.9zM459.5 260.4h.9v.9h-.9zM481.3 245.3h.9v.9h-.9zM457.8 252.1h.9v.9h-.9zM468.1 243.2h.9v.9h-.9zM459.3 250.8h.9v.9h-.9zM481.3 246.9h.9v.9h-.9zM475.3 241.4h.9v.9h-.9zM459.9 264.4h.9v.9h-.9zM457.3 259.1h.9v.9h-.9zM482.8 247.7h.9v.9h-.9zM468.3 243.5h.9v.9h-.9zM481.9 258.7h.9v.9h-.9zM484.1 251.2h.9v.9h-.9zM458.4 263.5h.9v.9h-.9zM473.2 243.0h.9v.9h-.9zM460.9 248.2h.9v.9h-.9zM481.9 251.3h.9v.9h-.9zM477.2 244.6h.9v.9h-.9zM481.4 267.0h.9v.9h-.9zM483.9 258.0h.9v.9h-.9zM482.1 255.1h.9v.9h-.9zM481.6 261.7h.9v.9h-.9zM478.1 245.5h.9v.9h-.9zM459.6 257.8h.9v.9h-.9zM461.1 249.8h.9v.9h-.9zM459.8 257.3h.9v.9h-.9zM481.9 257.7h.9v.9h-.9zM472.2 242.6h.9v.9h-.9zM478.2 243.8h.9v.9h-.9zM462.9 246.1h.9v.9h-.9zM476.1 242.5h.9v.9h-.9zM460.0 253.6h.9v.9h-.9zM459.3 256.9h.9v.9h-.9zM458.4 266.5h.9v.9h-.9zM484.0 260.2h.9v.9h-.9zM458.8 247.8h.9v.9h-.9zM460.1 251.7h.9v.9h-.9zM458.8 250.5h.9v.9h-.9zM483.4 266.6h.9v.9h-.9zM469.5 241.3h.9v.9h-.9zM482.8 258.9h.9v.9h-.9zM459.8 255.4h.9v.9h-.9zM480.4 245.5h.9v.9h-.9zM478.7 243.3h.9v.9h-.9zM482.9 262.9h.9v.9h-.9zM459.0 251.7h.9v.9h-.9zM464.9 243.0h.9v.9h-.9zM470.5 241.8h.9v.9h-.9zM479.7 245.5h.9v.9h-.9zM470.3 241.0h.9v.9h-.9zM482.7 261.7h.9v.9h-.9zM473.0 243.8h.9v.9h-.9zM467.7 241.5h.9v.9h-.9zM467.5 241.7h.9v.9h-.9zM459.4 254.8h.9v.9h-.9zM482.6 255.4h.9v.9h-.9zM472.1 243.8h.9v.9h-.9zM478.1 245.6h.9v.9h-.9zM482.6 263.4h.9v.9h-.9zM459.5 268.3h.9v.9h-.9zM482.3 261.4h.9v.9h-.9zM461.1 246.6h.9v.9h-.9zM463.7 243.4h.9v.9h-.9zM458.9 259.5h.9v.9h-.9zM484.7 261.0h.9v.9h-.9zM481.8 253.4h.9v.9h-.9zM461.1 248.2h.9v.9h-.9zM466.2 242.6h.9v.9h-.9zM481.8 259.6h.9v.9h-.9zM458.0 253.8h.9v.9h-.9zM481.4 267.5h.9v.9h-.9zM483.3 254.1h.9v.9h-.9zM475.3 242.2h.9v.9h-.9zM464.7 243.5h.9v.9h-.9zM482.9 262.0h.9v.9h-.9zM481.7 247.2h.9v.9h-.9zM470.6 243.7h.9v.9h-.9zM465.4 242.3h.9v.9h-.9zM477.7 243.1h.9v.9h-.9zM474.5 241.1h.9v.9h-.9zM458.5 254.3h.9v.9h-.9zM483.4 263.2h.9v.9h-.9zM474.2 243.5h.9v.9h-.9zM471.2 241.4h.9v.9h-.9zM482.5 249.3h.9v.9h-.9zM481.7 262.7h.9v.9h-.9zM477.2 244.3h.9v.9h-.9zM460.2 265.8h.9v.9h-.9zM482.4 247.7h.9v.9h-.9zM483.7 265.8h.9v.9h-.9zM482.1 250.3h.9v.9h-.9zM457.3 257.2h.9v.9h-.9zM466.2 243.2h.9v.9h-.9zM460.1 266.7h.9v.9h-.9zM483.4 265.8h.9v.9h-.9zM478.8 245.4h.9v.9h-.9zM476.6 243.0h.9v.9h-.9zM478.7 243.2h.9v.9h-.9z" fill="#000"/>
<clipPath id="cp2"><rect x="429.2" y="169.8" width="89.80000000000001" height="98.89999999999998"/></clipPath>
<path d="M482.00 258.50 L481.97 260.80 L481.87 262.40 L481.71 263.80 L481.49 265.07 L481.20 266.23 L480.85 267.30 L480.44 268.28 L479.96 269.18 L479.43 269.99 L478.83 270.72 L478.17 271.37 L477.45 271.93 L476.67 272.41 L475.82 272.80 L474.89 273.11 L473.86 273.32 L472.68 273.46 L471.00 273.50 L469.32 273.46 L468.14 273.32 L467.11 273.11 L466.18 272.80 L465.33 272.41 L464.55 271.93 L463.83 271.37 L463.17 270.72 L462.57 269.99 L462.04 269.18 L461.56 268.28 L461.15 267.30 L460.80 266.23 L460.51 265.07 L460.29 263.80 L460.13 262.40 L460.03 260.80 L460.00 258.50 L460.03 256.20 L460.13 254.60 L460.29 253.20 L460.51 251.93 L460.80 250.77 L461.15 249.70 L461.56 248.72 L462.04 247.82 L462.57 247.01 L463.17 246.28 L463.83 245.63 L464.55 245.07 L465.33 244.59 L466.18 244.20 L467.11 243.89 L468.14 243.68 L469.32 243.54 L471.00 243.50 L472.68 243.54 L473.86 243.68 L474.89 243.89 L475.82 244.20 L476.67 244.59 L477.45 245.07 L478.17 245.63 L478.83 246.28 L479.43 247.01 L479.96 247.82 L480.44 248.72 L480.85 249.70 L481.20 250.77 L481.49 251.93 L481.71 253.20 L481.87 254.60 L481.97 256.20 Z" fill="#000" clip-path="url(#cp2)"/>
<path d="M462.0 267.7h.9v.9h-.9zM463.4 266.2h.9v.9h-.9zM461.0 261.0h.9v.9h-.9zM462.4 263.7h.9v.9h-.9zM475.6 246.2h.9v.9h-.9zM460.7 253.4h.9v.9h-.9zM462.5 255.0h.9v.9h-.9zM479.3 263.4h.9v.9h-.9zM472.5 244.5h.9v.9h-.9zM465.2 245.3h.9v.9h-.9zM479.4 262.8h.9v.9h-.9zM479.5 266.4h.9v.9h-.9zM462.9 264.2h.9v.9h-.9zM460.5 253.6h.9v.9h-.9zM462.4 255.3h.9v.9h-.9zM481.5 260.2h.9v.9h-.9zM467.4 245.9h.9v.9h-.9zM462.1 259.8h.9v.9h-.9zM462.7 253.2h.9v.9h-.9z" fill="#fff"/>
<rect x="459.8" y="172.6" width="37.0" height="67.80000000000001" fill="none" stroke="#333" stroke-width="0.9"/>
<rect x="460.3" y="174.1" width="36.0" height="10" fill="#fff"/>
<text x="478.3" y="182.6" text-anchor="middle" font-size="10.8" font-weight="bold" stroke="#000" stroke-width="0.3" textLength="35.5" lengthAdjust="spacingAndGlyphs">3.5 ± 0.7</text>
<path d="M413.8 214.9 V281.4 H476" fill="none" stroke="#000" stroke-width="1.5"/>
<path d="M408.40000000000003 216.5 L413.8 206.9 L419.2 216.5 Z" fill="#000"/>
<path d="M473.8 276.7 L484.4 281.4 L473.8 286.09999999999997 Z" fill="#000"/>
<text x="486.8" y="286.59999999999997" font-size="14.5" font-weight="bold" textLength="29" lengthAdjust="spacingAndGlyphs">CD4</text>
<text transform="translate(419.6 186.5) rotate(-90)" text-anchor="middle" font-size="14.8" font-weight="bold" textLength="39.6" lengthAdjust="spacingAndGlyphs">IFN-γ</text>
<text x="446.6" y="164.6" font-size="14" font-weight="bold">WSX-1<tspan font-size="9.5" dy="-6.6">-/-</tspan></text>
</svg>
</body></html>
